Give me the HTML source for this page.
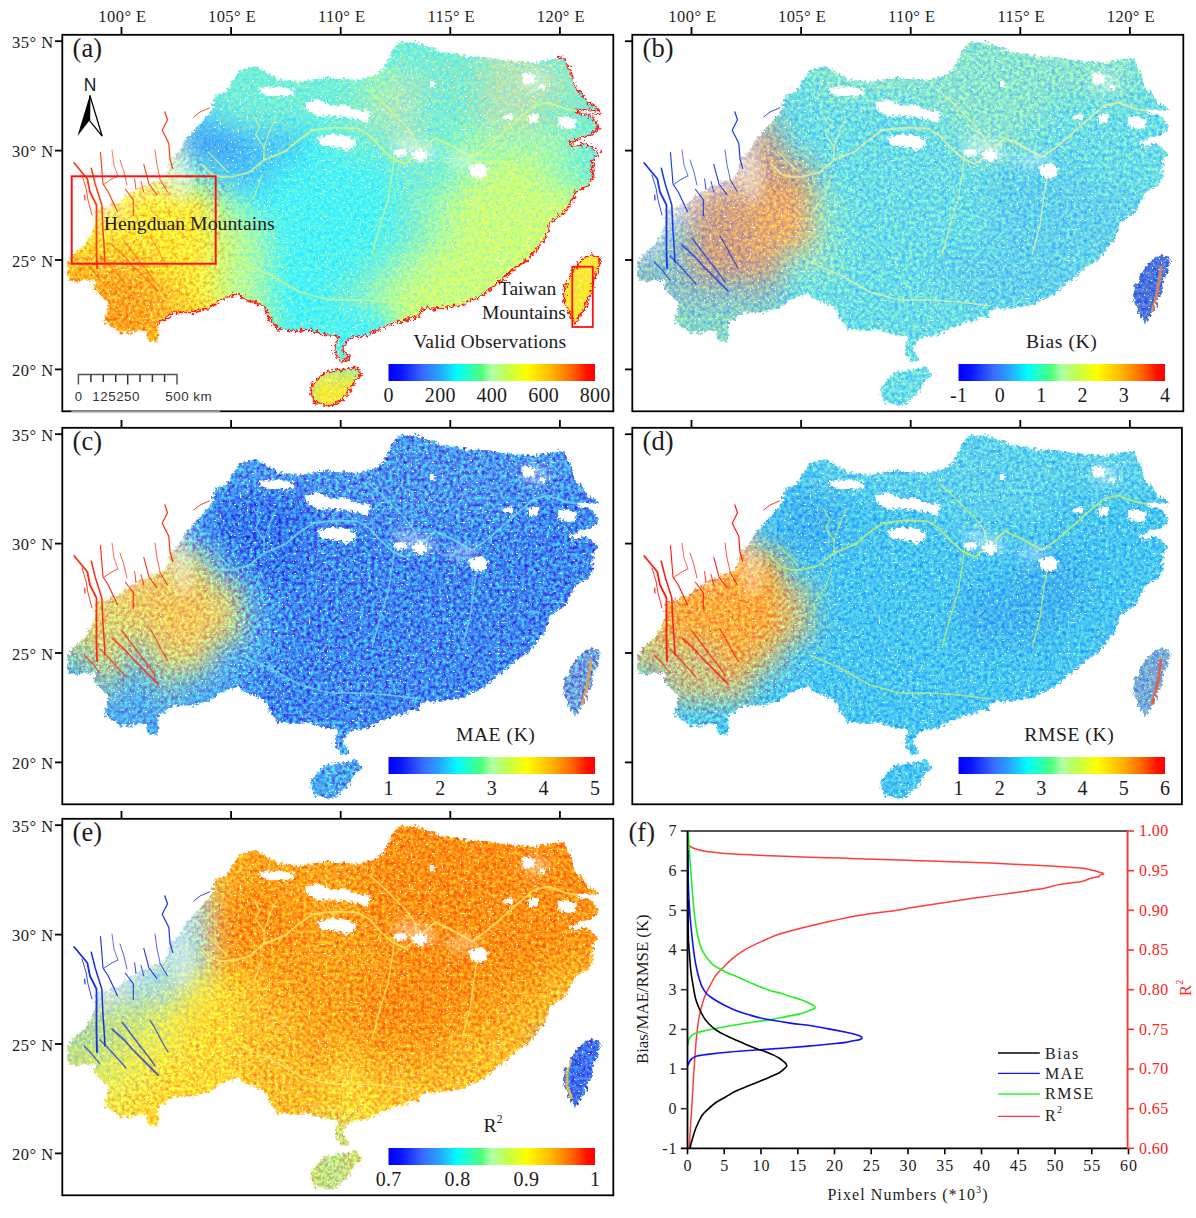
<!DOCTYPE html><html><head><meta charset="utf-8"><style>
html,body{margin:0;padding:0;background:#fff;width:1196px;height:1218px;overflow:hidden}
svg{position:absolute;left:0;top:0;display:block}
text{font-family:"Liberation Serif", serif;fill:#1c1c1c}
text.sans{font-family:"Liberation Sans", sans-serif}
</style></head><body>
<svg width="1196" height="1218" viewBox="0 0 1196 1218">
<defs>
<linearGradient id="cb" x1="0" y1="0" x2="1" y2="0"><stop offset="0" stop-color="#0000ff"/><stop offset="0.06" stop-color="#0a14ff"/><stop offset="0.17" stop-color="#3a6cff"/><stop offset="0.25" stop-color="#25a8ff"/><stop offset="0.335" stop-color="#00ffff"/><stop offset="0.45" stop-color="#4cff7a"/><stop offset="0.5" stop-color="#b0ffa8"/><stop offset="0.57" stop-color="#bfff50"/><stop offset="0.67" stop-color="#ffff00"/><stop offset="0.8" stop-color="#ffae00"/><stop offset="0.9" stop-color="#ff5a00"/><stop offset="0.96" stop-color="#ff1000"/><stop offset="1" stop-color="#ff0000"/></linearGradient>
<clipPath id="land"><path d="M214.0,96.0 L226.0,92.0 L240.0,70.0 L256.0,66.0 L266.0,72.0 L280.0,80.0 L300.0,82.0 L320.0,78.0 L340.0,78.0 L360.0,80.0 L378.0,74.0 L385.0,66.0 L389.0,58.0 L393.0,50.0 L397.0,43.0 L413.0,42.0 L420.0,44.0 L441.0,52.0 L469.0,57.0 L493.0,58.5 L518.0,61.7 L537.0,62.5 L550.0,60.0 L557.0,57.0 L563.5,57.6 L568.4,66.6 L573.3,79.7 L576.5,89.4 L583.0,96.0 L588.0,102.5 L598.5,109.0 L599.4,112.3 L589.6,110.6 L576.5,109.5 L576.5,112.3 L591.0,115.5 L599.4,128.6 L589.6,135.1 L576.5,140.0 L568.6,142.2 L574.5,145.9 L586.4,143.7 L593.7,148.9 L599.6,152.6 L593.7,159.2 L592.3,169.5 L593.7,177.0 L589.3,184.3 L583.4,188.7 L576.0,191.7 L571.6,202.0 L565.7,210.9 L556.8,218.3 L549.4,222.7 L547.9,231.6 L543.5,240.4 L539.1,246.4 L533.2,253.7 L524.3,262.6 L512.5,270.0 L503.6,278.8 L491.8,287.7 L480.0,296.6 L458.1,306.1 L433.5,308.5 L423.6,308.5 L418.7,315.9 L411.3,318.4 L394.0,323.3 L380.0,329.0 L368.0,335.0 L353.0,337.4 L348.3,338.9 L346.8,342.7 L342.3,345.7 L343.8,351.0 L349.1,356.3 L349.1,360.0 L342.3,361.5 L337.8,357.8 L334.7,351.7 L334.0,345.7 L337.0,340.4 L339.3,336.6 L328.7,334.4 L322.7,335.1 L315.1,331.3 L307.6,329.1 L300.0,331.3 L294.0,331.0 L277.7,328.8 L268.4,317.1 L263.7,305.4 L247.3,300.7 L237.9,293.7 L223.9,298.3 L209.8,307.7 L191.1,312.4 L172.4,312.4 L158.3,324.1 L158.3,341.7 L149.0,340.5 L146.6,331.1 L120.9,333.5 L104.5,321.7 L109.2,303.0 L97.5,293.7 L92.8,279.6 L69.4,282.0 L67.0,265.6 L71.7,256.0 L87.0,242.0 L93.8,227.0 L95.4,208.7 L117.0,203.7 L129.0,193.6 L149.0,183.6 L165.7,177.0 L170.7,158.5 L175.7,155.0 L187.4,138.5 L199.0,125.0 L212.5,110.0Z M324.9,372.1 L332.5,370.6 L345.3,369.1 L354.4,367.6 L360.4,370.6 L361.2,375.1 L355.9,378.9 L352.9,384.2 L349.8,389.5 L346.8,395.5 L339.3,401.6 L331.7,406.1 L322.7,404.6 L313.6,401.6 L311.3,394.8 L311.3,386.5 L316.6,380.4Z M593.7,254.5 L599.6,258.2 L598.2,268.5 L593.7,280.3 L590.8,295.1 L583.4,309.9 L577.5,320.0 L575.3,323.3 L570.0,314.0 L564.2,302.5 L564.2,287.7 L571.6,273.0 L580.4,261.1 L586.4,256.7Z"/></clipPath>
<filter id="jag" filterUnits="userSpaceOnUse" x="0" y="0" width="700" height="460"><feTurbulence type="fractalNoise" baseFrequency="0.3" numOctaves="3" seed="3" result="t"/><feDisplacementMap in="SourceGraphic" in2="t" scale="8" xChannelSelector="R" yChannelSelector="G"/></filter>
<mask id="landm" maskUnits="userSpaceOnUse" x="0" y="0" width="700" height="460"><path d="M214.0,96.0 L226.0,92.0 L240.0,70.0 L256.0,66.0 L266.0,72.0 L280.0,80.0 L300.0,82.0 L320.0,78.0 L340.0,78.0 L360.0,80.0 L378.0,74.0 L385.0,66.0 L389.0,58.0 L393.0,50.0 L397.0,43.0 L413.0,42.0 L420.0,44.0 L441.0,52.0 L469.0,57.0 L493.0,58.5 L518.0,61.7 L537.0,62.5 L550.0,60.0 L557.0,57.0 L563.5,57.6 L568.4,66.6 L573.3,79.7 L576.5,89.4 L583.0,96.0 L588.0,102.5 L598.5,109.0 L599.4,112.3 L589.6,110.6 L576.5,109.5 L576.5,112.3 L591.0,115.5 L599.4,128.6 L589.6,135.1 L576.5,140.0 L568.6,142.2 L574.5,145.9 L586.4,143.7 L593.7,148.9 L599.6,152.6 L593.7,159.2 L592.3,169.5 L593.7,177.0 L589.3,184.3 L583.4,188.7 L576.0,191.7 L571.6,202.0 L565.7,210.9 L556.8,218.3 L549.4,222.7 L547.9,231.6 L543.5,240.4 L539.1,246.4 L533.2,253.7 L524.3,262.6 L512.5,270.0 L503.6,278.8 L491.8,287.7 L480.0,296.6 L458.1,306.1 L433.5,308.5 L423.6,308.5 L418.7,315.9 L411.3,318.4 L394.0,323.3 L380.0,329.0 L368.0,335.0 L353.0,337.4 L348.3,338.9 L346.8,342.7 L342.3,345.7 L343.8,351.0 L349.1,356.3 L349.1,360.0 L342.3,361.5 L337.8,357.8 L334.7,351.7 L334.0,345.7 L337.0,340.4 L339.3,336.6 L328.7,334.4 L322.7,335.1 L315.1,331.3 L307.6,329.1 L300.0,331.3 L294.0,331.0 L277.7,328.8 L268.4,317.1 L263.7,305.4 L247.3,300.7 L237.9,293.7 L223.9,298.3 L209.8,307.7 L191.1,312.4 L172.4,312.4 L158.3,324.1 L158.3,341.7 L149.0,340.5 L146.6,331.1 L120.9,333.5 L104.5,321.7 L109.2,303.0 L97.5,293.7 L92.8,279.6 L69.4,282.0 L67.0,265.6 L71.7,256.0 L87.0,242.0 L93.8,227.0 L95.4,208.7 L117.0,203.7 L129.0,193.6 L149.0,183.6 L165.7,177.0 L170.7,158.5 L175.7,155.0 L187.4,138.5 L199.0,125.0 L212.5,110.0Z M324.9,372.1 L332.5,370.6 L345.3,369.1 L354.4,367.6 L360.4,370.6 L361.2,375.1 L355.9,378.9 L352.9,384.2 L349.8,389.5 L346.8,395.5 L339.3,401.6 L331.7,406.1 L322.7,404.6 L313.6,401.6 L311.3,394.8 L311.3,386.5 L316.6,380.4Z M593.7,254.5 L599.6,258.2 L598.2,268.5 L593.7,280.3 L590.8,295.1 L583.4,309.9 L577.5,320.0 L575.3,323.3 L570.0,314.0 L564.2,302.5 L564.2,287.7 L571.6,273.0 L580.4,261.1 L586.4,256.7Z" fill="#fff" filter="url(#jag)"/></mask>
<filter id="bl" filterUnits="userSpaceOnUse" x="0" y="0" width="700" height="460"><feGaussianBlur stdDeviation="13"/></filter>
<filter id="bl2" x="-20%" y="-20%" width="140%" height="140%"><feGaussianBlur stdDeviation="5"/></filter>
<filter id="nz_a" filterUnits="userSpaceOnUse" x="0" y="0" width="700" height="460" color-interpolation-filters="sRGB"><feGaussianBlur in="SourceGraphic" stdDeviation="13" result="b"/><feTurbulence type="fractalNoise" baseFrequency="0.28" numOctaves="2" seed="97" result="t"/><feColorMatrix in="t" type="matrix" values="0.55 0 0 0 0.225  0.12 0 0 0 0.44  -0.55 0 0 0 0.775  0 0 0 0 1" result="tn"/><feComposite in="b" in2="tn" operator="arithmetic" k1="0" k2="1" k3="1" k4="-0.5"/></filter>
<filter id="nw_a" filterUnits="userSpaceOnUse" x="0" y="0" width="700" height="460" color-interpolation-filters="sRGB"><feGaussianBlur in="SourceGraphic" stdDeviation="13" result="b"/><feTurbulence type="fractalNoise" baseFrequency="0.28" numOctaves="2" seed="97" result="t"/><feColorMatrix in="t" type="matrix" values="0.05 0 0 0 0.475  0.85 0 0 0 0.075  0.2 0 0 0 0.4  0 0 0 0 1" result="tn"/><feComposite in="b" in2="tn" operator="arithmetic" k1="0" k2="1" k3="1" k4="-0.5"/></filter>
<filter id="nz_b" filterUnits="userSpaceOnUse" x="0" y="0" width="700" height="460" color-interpolation-filters="sRGB"><feGaussianBlur in="SourceGraphic" stdDeviation="13" result="b"/><feTurbulence type="fractalNoise" baseFrequency="0.28" numOctaves="2" seed="98" result="t"/><feColorMatrix in="t" type="matrix" values="0.6 0 0 0 0.2  0.45 0 0 0 0.275  -0.4 0 0 0 0.7  0 0 0 0 1" result="tn"/><feComposite in="b" in2="tn" operator="arithmetic" k1="0" k2="1" k3="1" k4="-0.5"/></filter>
<filter id="nw_b" filterUnits="userSpaceOnUse" x="0" y="0" width="700" height="460" color-interpolation-filters="sRGB"><feGaussianBlur in="SourceGraphic" stdDeviation="13" result="b"/><feTurbulence type="fractalNoise" baseFrequency="0.28" numOctaves="2" seed="98" result="t"/><feColorMatrix in="t" type="matrix" values="0.05 0 0 0 0.475  0.85 0 0 0 0.075  0.2 0 0 0 0.4  0 0 0 0 1" result="tn"/><feComposite in="b" in2="tn" operator="arithmetic" k1="0" k2="1" k3="1" k4="-0.5"/></filter>
<filter id="nz_c" filterUnits="userSpaceOnUse" x="0" y="0" width="700" height="460" color-interpolation-filters="sRGB"><feGaussianBlur in="SourceGraphic" stdDeviation="13" result="b"/><feTurbulence type="fractalNoise" baseFrequency="0.28" numOctaves="2" seed="99" result="t"/><feColorMatrix in="t" type="matrix" values="0.05 0 0 0 0.475  1.3 0 0 0 -0.15  0.1 0 0 0 0.45  0 0 0 0 1" result="tn"/><feComposite in="b" in2="tn" operator="arithmetic" k1="0" k2="1" k3="1" k4="-0.5"/></filter>
<filter id="nw_c" filterUnits="userSpaceOnUse" x="0" y="0" width="700" height="460" color-interpolation-filters="sRGB"><feGaussianBlur in="SourceGraphic" stdDeviation="13" result="b"/><feTurbulence type="fractalNoise" baseFrequency="0.28" numOctaves="2" seed="99" result="t"/><feColorMatrix in="t" type="matrix" values="0.05 0 0 0 0.475  0.85 0 0 0 0.075  0.2 0 0 0 0.4  0 0 0 0 1" result="tn"/><feComposite in="b" in2="tn" operator="arithmetic" k1="0" k2="1" k3="1" k4="-0.5"/></filter>
<filter id="nz_d" filterUnits="userSpaceOnUse" x="0" y="0" width="700" height="460" color-interpolation-filters="sRGB"><feGaussianBlur in="SourceGraphic" stdDeviation="13" result="b"/><feTurbulence type="fractalNoise" baseFrequency="0.28" numOctaves="2" seed="100" result="t"/><feColorMatrix in="t" type="matrix" values="0.6 0 0 0 0.2  0.5 0 0 0 0.25  -0.3 0 0 0 0.65  0 0 0 0 1" result="tn"/><feComposite in="b" in2="tn" operator="arithmetic" k1="0" k2="1" k3="1" k4="-0.5"/></filter>
<filter id="nw_d" filterUnits="userSpaceOnUse" x="0" y="0" width="700" height="460" color-interpolation-filters="sRGB"><feGaussianBlur in="SourceGraphic" stdDeviation="13" result="b"/><feTurbulence type="fractalNoise" baseFrequency="0.28" numOctaves="2" seed="100" result="t"/><feColorMatrix in="t" type="matrix" values="0.05 0 0 0 0.475  0.85 0 0 0 0.075  0.2 0 0 0 0.4  0 0 0 0 1" result="tn"/><feComposite in="b" in2="tn" operator="arithmetic" k1="0" k2="1" k3="1" k4="-0.5"/></filter>
<filter id="nz_e" filterUnits="userSpaceOnUse" x="0" y="0" width="700" height="460" color-interpolation-filters="sRGB"><feGaussianBlur in="SourceGraphic" stdDeviation="13" result="b"/><feTurbulence type="fractalNoise" baseFrequency="0.28" numOctaves="2" seed="101" result="t"/><feColorMatrix in="t" type="matrix" values="0.5 0 0 0 0.25  0.3 0 0 0 0.35  -0.5 0 0 0 0.75  0 0 0 0 1" result="tn"/><feComposite in="b" in2="tn" operator="arithmetic" k1="0" k2="1" k3="1" k4="-0.5"/></filter>
<filter id="nw_e" filterUnits="userSpaceOnUse" x="0" y="0" width="700" height="460" color-interpolation-filters="sRGB"><feGaussianBlur in="SourceGraphic" stdDeviation="13" result="b"/><feTurbulence type="fractalNoise" baseFrequency="0.28" numOctaves="2" seed="101" result="t"/><feColorMatrix in="t" type="matrix" values="0.05 0 0 0 0.475  0.85 0 0 0 0.075  0.2 0 0 0 0.4  0 0 0 0 1" result="tn"/><feComposite in="b" in2="tn" operator="arithmetic" k1="0" k2="1" k3="1" k4="-0.5"/></filter>
<mask id="mk_warm" maskUnits="userSpaceOnUse" x="0" y="0" width="700" height="460"><polygon points="62.0,140.0 172.0,140.0 200.0,160.0 226.0,188.0 236.0,230.0 232.0,280.0 218.0,345.0 62.0,350.0" fill="#fff" filter="url(#bl2)"/></mask>
<mask id="mk_warm_e" maskUnits="userSpaceOnUse" x="0" y="0" width="700" height="460"><rect x="0" y="0" width="700" height="460" fill="#fff"/><polygon points="62.0,140.0 172.0,140.0 195.0,160.0 215.0,200.0 205.0,240.0 170.0,270.0 120.0,300.0 62.0,300.0" fill="#000" filter="url(#bl2)"/></mask>
<filter id="ws" filterUnits="userSpaceOnUse" x="0" y="0" width="700" height="460"><feTurbulence type="fractalNoise" baseFrequency="0.55" numOctaves="1" seed="11"/><feColorMatrix type="matrix" values="0 0 0 0 1  0 0 0 0 1  0 0 0 0 1  -12 0 0 0 4.0"/></filter>
<filter id="os" filterUnits="userSpaceOnUse" x="0" y="0" width="700" height="460"><feTurbulence type="fractalNoise" baseFrequency="0.5" numOctaves="1" seed="21"/><feColorMatrix type="matrix" values="0 0 0 0 1  0 0 0 0 0.55  0 0 0 0 0.12  10 0 0 0 -6.0"/></filter>
<mask id="mk_ne" maskUnits="userSpaceOnUse" x="0" y="0" width="700" height="460"><g filter="url(#bl)"><polygon points="430,60 560,58 585,100 570,135 470,125 430,100" fill="#fff"/></g></mask>
</defs>
<g transform="translate(0,0)">
<g mask="url(#landm)">
<g filter="url(#nz_a)">
<rect x="32" y="10" width="450" height="60" fill="#70eed8"/>
<rect x="482" y="10" width="60" height="60" fill="#a8e8c0"/>
<rect x="542" y="10" width="90" height="60" fill="#70eed8"/>
<rect x="32" y="70" width="330" height="30" fill="#70eed8"/>
<rect x="362" y="70" width="30" height="30" fill="#a0f8b0"/>
<rect x="392" y="70" width="30" height="30" fill="#a8e8c0"/>
<rect x="422" y="70" width="60" height="30" fill="#70eed8"/>
<rect x="482" y="70" width="90" height="30" fill="#a8e8c0"/>
<rect x="572" y="70" width="60" height="30" fill="#70eed8"/>
<rect x="32" y="100" width="150" height="30" fill="#70eed8"/>
<rect x="182" y="100" width="30" height="30" fill="#48c4ff"/>
<rect x="212" y="100" width="150" height="30" fill="#70eed8"/>
<rect x="362" y="100" width="60" height="30" fill="#a8e8c0"/>
<rect x="422" y="100" width="60" height="30" fill="#70eed8"/>
<rect x="482" y="100" width="60" height="30" fill="#a8e8c0"/>
<rect x="542" y="100" width="90" height="30" fill="#70eed8"/>
<rect x="32" y="130" width="150" height="30" fill="#fff0b0"/>
<rect x="182" y="130" width="60" height="30" fill="#40a0ff"/>
<rect x="242" y="130" width="60" height="30" fill="#48c4ff"/>
<rect x="302" y="130" width="30" height="30" fill="#48f2f6"/>
<rect x="332" y="130" width="60" height="30" fill="#70eed8"/>
<rect x="392" y="130" width="30" height="30" fill="#a8e8c0"/>
<rect x="422" y="130" width="30" height="30" fill="#70eed8"/>
<rect x="452" y="130" width="120" height="30" fill="#a0f8b0"/>
<rect x="572" y="130" width="60" height="30" fill="#70eed8"/>
<rect x="32" y="160" width="120" height="30" fill="#fff0b0"/>
<rect x="152" y="160" width="30" height="30" fill="#e0f8d0"/>
<rect x="182" y="160" width="30" height="30" fill="#70eed8"/>
<rect x="212" y="160" width="60" height="30" fill="#48c4ff"/>
<rect x="272" y="160" width="120" height="30" fill="#48f2f6"/>
<rect x="392" y="160" width="60" height="30" fill="#70eed8"/>
<rect x="452" y="160" width="30" height="30" fill="#a0f8b0"/>
<rect x="482" y="160" width="60" height="30" fill="#c8ff7c"/>
<rect x="542" y="160" width="30" height="30" fill="#a0f8b0"/>
<rect x="572" y="160" width="60" height="30" fill="#70eed8"/>
<rect x="32" y="190" width="90" height="30" fill="#fff0b0"/>
<rect x="122" y="190" width="90" height="30" fill="#ffe830"/>
<rect x="212" y="190" width="30" height="30" fill="#a0f8b0"/>
<rect x="242" y="190" width="150" height="30" fill="#48f2f6"/>
<rect x="392" y="190" width="30" height="30" fill="#70eed8"/>
<rect x="422" y="190" width="30" height="30" fill="#a0f8b0"/>
<rect x="452" y="190" width="180" height="30" fill="#c8ff7c"/>
<rect x="32" y="220" width="180" height="30" fill="#ffe830"/>
<rect x="212" y="220" width="30" height="30" fill="#c8ff7c"/>
<rect x="242" y="220" width="30" height="30" fill="#a0f8b0"/>
<rect x="272" y="220" width="120" height="30" fill="#48f2f6"/>
<rect x="392" y="220" width="30" height="30" fill="#70eed8"/>
<rect x="422" y="220" width="30" height="30" fill="#a0f8b0"/>
<rect x="452" y="220" width="120" height="30" fill="#c8ff7c"/>
<rect x="572" y="220" width="60" height="30" fill="#ffe830"/>
<rect x="32" y="250" width="120" height="30" fill="#ffbc28"/>
<rect x="152" y="250" width="60" height="30" fill="#ffe830"/>
<rect x="212" y="250" width="30" height="30" fill="#c8ff7c"/>
<rect x="242" y="250" width="30" height="30" fill="#a0f8b0"/>
<rect x="272" y="250" width="90" height="30" fill="#48f2f6"/>
<rect x="362" y="250" width="30" height="30" fill="#70eed8"/>
<rect x="392" y="250" width="30" height="30" fill="#a0f8b0"/>
<rect x="422" y="250" width="120" height="30" fill="#c8ff7c"/>
<rect x="542" y="250" width="90" height="30" fill="#ffe830"/>
<rect x="32" y="280" width="120" height="30" fill="#ffa01c"/>
<rect x="152" y="280" width="30" height="30" fill="#ffbc28"/>
<rect x="182" y="280" width="30" height="30" fill="#ffe830"/>
<rect x="212" y="280" width="30" height="30" fill="#c8ff7c"/>
<rect x="242" y="280" width="30" height="30" fill="#a0f8b0"/>
<rect x="272" y="280" width="60" height="30" fill="#48f2f6"/>
<rect x="332" y="280" width="30" height="30" fill="#70eed8"/>
<rect x="362" y="280" width="30" height="30" fill="#a0f8b0"/>
<rect x="392" y="280" width="150" height="30" fill="#c8ff7c"/>
<rect x="542" y="280" width="90" height="30" fill="#ffe830"/>
<rect x="32" y="310" width="120" height="30" fill="#ffa01c"/>
<rect x="152" y="310" width="60" height="30" fill="#ffbc28"/>
<rect x="212" y="310" width="30" height="30" fill="#ffe830"/>
<rect x="242" y="310" width="30" height="30" fill="#c8ff7c"/>
<rect x="272" y="310" width="120" height="30" fill="#48f2f6"/>
<rect x="392" y="310" width="150" height="30" fill="#c8ff7c"/>
<rect x="542" y="310" width="90" height="30" fill="#ffe830"/>
<rect x="32" y="340" width="120" height="30" fill="#ffa01c"/>
<rect x="152" y="340" width="60" height="30" fill="#ffbc28"/>
<rect x="212" y="340" width="30" height="30" fill="#ffe830"/>
<rect x="242" y="340" width="30" height="30" fill="#c8ff7c"/>
<rect x="272" y="340" width="30" height="30" fill="#48f2f6"/>
<rect x="302" y="340" width="30" height="30" fill="#a0f8b0"/>
<rect x="332" y="340" width="60" height="30" fill="#48f2f6"/>
<rect x="392" y="340" width="150" height="30" fill="#c8ff7c"/>
<rect x="542" y="340" width="90" height="30" fill="#ffe830"/>
<rect x="32" y="370" width="120" height="60" fill="#ffa01c"/>
<rect x="152" y="370" width="60" height="60" fill="#ffbc28"/>
<rect x="212" y="370" width="30" height="60" fill="#ffe830"/>
<rect x="242" y="370" width="30" height="60" fill="#c8ff7c"/>
<rect x="272" y="370" width="30" height="60" fill="#48f2f6"/>
<rect x="302" y="370" width="90" height="60" fill="#ffe830"/>
<rect x="392" y="370" width="150" height="60" fill="#c8ff7c"/>
<rect x="542" y="370" width="90" height="60" fill="#ffe830"/>
</g>
<g mask="url(#mk_warm)">
<g filter="url(#nw_a)">
<rect x="32" y="10" width="450" height="60" fill="#70eed8"/>
<rect x="482" y="10" width="60" height="60" fill="#a8e8c0"/>
<rect x="542" y="10" width="90" height="60" fill="#70eed8"/>
<rect x="32" y="70" width="330" height="30" fill="#70eed8"/>
<rect x="362" y="70" width="30" height="30" fill="#a0f8b0"/>
<rect x="392" y="70" width="30" height="30" fill="#a8e8c0"/>
<rect x="422" y="70" width="60" height="30" fill="#70eed8"/>
<rect x="482" y="70" width="90" height="30" fill="#a8e8c0"/>
<rect x="572" y="70" width="60" height="30" fill="#70eed8"/>
<rect x="32" y="100" width="150" height="30" fill="#70eed8"/>
<rect x="182" y="100" width="30" height="30" fill="#48c4ff"/>
<rect x="212" y="100" width="150" height="30" fill="#70eed8"/>
<rect x="362" y="100" width="60" height="30" fill="#a8e8c0"/>
<rect x="422" y="100" width="60" height="30" fill="#70eed8"/>
<rect x="482" y="100" width="60" height="30" fill="#a8e8c0"/>
<rect x="542" y="100" width="90" height="30" fill="#70eed8"/>
<rect x="32" y="130" width="150" height="30" fill="#fff0b0"/>
<rect x="182" y="130" width="60" height="30" fill="#40a0ff"/>
<rect x="242" y="130" width="60" height="30" fill="#48c4ff"/>
<rect x="302" y="130" width="30" height="30" fill="#48f2f6"/>
<rect x="332" y="130" width="60" height="30" fill="#70eed8"/>
<rect x="392" y="130" width="30" height="30" fill="#a8e8c0"/>
<rect x="422" y="130" width="30" height="30" fill="#70eed8"/>
<rect x="452" y="130" width="120" height="30" fill="#a0f8b0"/>
<rect x="572" y="130" width="60" height="30" fill="#70eed8"/>
<rect x="32" y="160" width="120" height="30" fill="#fff0b0"/>
<rect x="152" y="160" width="30" height="30" fill="#e0f8d0"/>
<rect x="182" y="160" width="30" height="30" fill="#70eed8"/>
<rect x="212" y="160" width="60" height="30" fill="#48c4ff"/>
<rect x="272" y="160" width="120" height="30" fill="#48f2f6"/>
<rect x="392" y="160" width="60" height="30" fill="#70eed8"/>
<rect x="452" y="160" width="30" height="30" fill="#a0f8b0"/>
<rect x="482" y="160" width="60" height="30" fill="#c8ff7c"/>
<rect x="542" y="160" width="30" height="30" fill="#a0f8b0"/>
<rect x="572" y="160" width="60" height="30" fill="#70eed8"/>
<rect x="32" y="190" width="90" height="30" fill="#fff0b0"/>
<rect x="122" y="190" width="90" height="30" fill="#ffe830"/>
<rect x="212" y="190" width="30" height="30" fill="#a0f8b0"/>
<rect x="242" y="190" width="150" height="30" fill="#48f2f6"/>
<rect x="392" y="190" width="30" height="30" fill="#70eed8"/>
<rect x="422" y="190" width="30" height="30" fill="#a0f8b0"/>
<rect x="452" y="190" width="180" height="30" fill="#c8ff7c"/>
<rect x="32" y="220" width="180" height="30" fill="#ffe830"/>
<rect x="212" y="220" width="30" height="30" fill="#c8ff7c"/>
<rect x="242" y="220" width="30" height="30" fill="#a0f8b0"/>
<rect x="272" y="220" width="120" height="30" fill="#48f2f6"/>
<rect x="392" y="220" width="30" height="30" fill="#70eed8"/>
<rect x="422" y="220" width="30" height="30" fill="#a0f8b0"/>
<rect x="452" y="220" width="120" height="30" fill="#c8ff7c"/>
<rect x="572" y="220" width="60" height="30" fill="#ffe830"/>
<rect x="32" y="250" width="120" height="30" fill="#ffbc28"/>
<rect x="152" y="250" width="60" height="30" fill="#ffe830"/>
<rect x="212" y="250" width="30" height="30" fill="#c8ff7c"/>
<rect x="242" y="250" width="30" height="30" fill="#a0f8b0"/>
<rect x="272" y="250" width="90" height="30" fill="#48f2f6"/>
<rect x="362" y="250" width="30" height="30" fill="#70eed8"/>
<rect x="392" y="250" width="30" height="30" fill="#a0f8b0"/>
<rect x="422" y="250" width="120" height="30" fill="#c8ff7c"/>
<rect x="542" y="250" width="90" height="30" fill="#ffe830"/>
<rect x="32" y="280" width="120" height="30" fill="#ffa01c"/>
<rect x="152" y="280" width="30" height="30" fill="#ffbc28"/>
<rect x="182" y="280" width="30" height="30" fill="#ffe830"/>
<rect x="212" y="280" width="30" height="30" fill="#c8ff7c"/>
<rect x="242" y="280" width="30" height="30" fill="#a0f8b0"/>
<rect x="272" y="280" width="60" height="30" fill="#48f2f6"/>
<rect x="332" y="280" width="30" height="30" fill="#70eed8"/>
<rect x="362" y="280" width="30" height="30" fill="#a0f8b0"/>
<rect x="392" y="280" width="150" height="30" fill="#c8ff7c"/>
<rect x="542" y="280" width="90" height="30" fill="#ffe830"/>
<rect x="32" y="310" width="120" height="30" fill="#ffa01c"/>
<rect x="152" y="310" width="60" height="30" fill="#ffbc28"/>
<rect x="212" y="310" width="30" height="30" fill="#ffe830"/>
<rect x="242" y="310" width="30" height="30" fill="#c8ff7c"/>
<rect x="272" y="310" width="120" height="30" fill="#48f2f6"/>
<rect x="392" y="310" width="150" height="30" fill="#c8ff7c"/>
<rect x="542" y="310" width="90" height="30" fill="#ffe830"/>
<rect x="32" y="340" width="120" height="30" fill="#ffa01c"/>
<rect x="152" y="340" width="60" height="30" fill="#ffbc28"/>
<rect x="212" y="340" width="30" height="30" fill="#ffe830"/>
<rect x="242" y="340" width="30" height="30" fill="#c8ff7c"/>
<rect x="272" y="340" width="30" height="30" fill="#48f2f6"/>
<rect x="302" y="340" width="30" height="30" fill="#a0f8b0"/>
<rect x="332" y="340" width="60" height="30" fill="#48f2f6"/>
<rect x="392" y="340" width="150" height="30" fill="#c8ff7c"/>
<rect x="542" y="340" width="90" height="30" fill="#ffe830"/>
<rect x="32" y="370" width="120" height="60" fill="#ffa01c"/>
<rect x="152" y="370" width="60" height="60" fill="#ffbc28"/>
<rect x="212" y="370" width="30" height="60" fill="#ffe830"/>
<rect x="242" y="370" width="30" height="60" fill="#c8ff7c"/>
<rect x="272" y="370" width="30" height="60" fill="#48f2f6"/>
<rect x="302" y="370" width="90" height="60" fill="#ffe830"/>
<rect x="392" y="370" width="150" height="60" fill="#c8ff7c"/>
<rect x="542" y="370" width="90" height="60" fill="#ffe830"/>
</g>
</g>
<rect x="60" y="40" width="560" height="370" filter="url(#ws)"/>
<g mask="url(#mk_ne)"><rect x="60" y="40" width="560" height="370" filter="url(#os)"/></g>
<polyline fill="none" stroke="#d8f880" stroke-opacity="0.75" stroke-width="2" stroke-linejoin="round" points="201.0,164.0 212.0,174.5 222.0,177.0 233.0,176.6 249.0,172.4 264.0,160.0 285.0,151.5 300.0,139.0 312.0,130.6 333.0,127.5 358.0,128.5 369.0,135.0 380.0,147.0 392.0,158.0 405.0,164.0 420.0,152.0 435.0,138.0 452.0,146.0 472.0,157.0 484.0,149.0 495.0,140.0 515.0,122.0 534.0,106.0 548.0,102.5 566.0,109.0 585.0,112.0 598.0,112.0"/>
<polyline fill="none" stroke="#d8f880" stroke-opacity="0.75" stroke-width="1.4" stroke-linejoin="round" points="253.6,116.0 259.9,126.4 255.7,134.8 264.0,147.0 264.0,160.0"/>
<polyline fill="none" stroke="#d8f880" stroke-opacity="0.75" stroke-width="1.2" stroke-linejoin="round" points="276.6,116.0 270.0,130.0 264.0,147.0"/>
<polyline fill="none" stroke="#d8f880" stroke-opacity="0.75" stroke-width="1.4" stroke-linejoin="round" points="207.6,151.5 218.0,162.0 228.5,172.4"/>
<polyline fill="none" stroke="#d8f880" stroke-opacity="0.75" stroke-width="1.4" stroke-linejoin="round" points="368.6,90.9 380.0,100.0 389.5,109.7 405.0,125.0 416.0,140.0 416.0,149.0"/>
<polyline fill="none" stroke="#d8f880" stroke-opacity="0.75" stroke-width="1.4" stroke-linejoin="round" points="395.0,152.0 392.0,175.0 388.0,200.0 380.0,225.0 372.0,255.0"/>
<polyline fill="none" stroke="#d8f880" stroke-opacity="0.75" stroke-width="1.4" stroke-linejoin="round" points="478.0,172.0 474.0,195.0 470.0,225.0 462.0,255.0"/>
<polyline fill="none" stroke="#d8f880" stroke-opacity="0.75" stroke-width="1.6" stroke-linejoin="round" points="240.0,262.0 270.0,275.0 300.0,292.0 330.0,300.0 360.0,300.0 390.0,302.0 420.0,306.0"/>
<polyline fill="none" stroke="#d8f880" stroke-opacity="0.75" stroke-width="1.2" stroke-linejoin="round" points="240.0,215.0 255.0,195.0 262.0,175.0"/>
<ellipse cx="183" cy="180" rx="11" ry="24" fill="#fff" fill-opacity="0.3" filter="url(#bl2)"/>
<g fill="#fff" filter="url(#bl2)"><ellipse cx="415" cy="148" rx="24" ry="9" fill-opacity="0.35" transform="rotate(18 415 148)"/><ellipse cx="462" cy="160" rx="16" ry="8" fill-opacity="0.3"/><ellipse cx="535" cy="82" rx="14" ry="10" fill-opacity="0.3"/></g>
<g fill="#fff" filter="url(#jag)">
<polygon points="260.0,88.0 270.0,86.5 284.0,87.5 295.0,90.0 293.0,95.0 282.0,96.0 268.0,95.5 261.0,93.0"/>
<polygon points="303.8,103.4 316.3,99.3 333.0,105.6 345.0,104.0 354.0,108.7 370.7,112.9 368.6,121.3 354.0,119.2 337.2,116.0 320.5,116.5 308.0,111.8"/>
<polygon points="316.3,139.0 328.9,133.7 349.8,135.8 357.1,144.2 347.7,150.5 335.1,146.3 320.5,145.2"/>
<polygon points="412.0,151.0 420.0,149.0 429.0,153.0 427.0,160.0 418.0,161.0 413.0,157.0"/>
<polygon points="469.0,166.0 480.0,164.0 488.0,168.0 486.0,177.0 478.0,179.0 471.0,174.0"/>
<polygon points="521.0,74.0 530.0,72.5 536.0,77.0 533.0,84.0 524.0,83.0"/>
<polygon points="539.0,85.0 545.0,84.5 545.0,90.0 540.0,90.0"/>
<polygon points="557.0,118.0 568.0,116.5 577.0,120.0 575.0,128.0 565.0,128.6 558.0,125.0"/>
<polygon points="503.0,114.5 514.0,114.0 515.0,119.5 505.0,120.0"/>
<polygon points="527.0,115.0 538.0,114.0 539.0,122.0 529.0,123.0"/>
<polygon points="430.0,82.0 435.0,82.0 434.0,87.0 430.0,86.0"/>
<polygon points="392.0,150.0 405.0,149.0 409.0,155.0 398.0,157.0"/>
</g>
</g>
<polyline fill="none" stroke="#ff3a10" stroke-width="1.8" stroke-opacity="0.45" stroke-linecap="round" points="112.0,245.0 124.0,256.0 135.0,268.0 147.0,280.0 158.0,291.0"/>
<polyline fill="none" stroke="#ff3a10" stroke-width="1.4" stroke-opacity="0.45" stroke-linecap="round" points="122.0,238.0 131.0,250.0 140.0,262.0 148.0,272.0 155.0,282.0"/>
<polyline fill="none" stroke="#ff3a10" stroke-width="1.3" stroke-opacity="0.45" stroke-linecap="round" points="100.0,256.0 109.0,265.0 118.0,275.0 126.0,284.0"/>
<polyline fill="none" stroke="#ff3a10" stroke-width="1.3" stroke-opacity="0.45" stroke-linecap="round" points="150.0,236.0 156.0,246.0 161.0,256.0 168.0,268.0"/>
<polyline fill="none" stroke="#ff3a10" stroke-width="1.2" stroke-opacity="0.45" stroke-linecap="round" points="84.0,262.0 92.0,270.0 100.0,280.0"/>
<polyline fill="none" stroke="#ff3a10" stroke-width="1.8" stroke-linejoin="round" stroke-linecap="round" points="74.2,163.0 80.0,170.0 87.3,178.8 90.0,192.0 96.5,205.0 96.5,231.0 96.5,250.0 97.0,268.0"/>
<polyline fill="none" stroke="#ff3a10" stroke-width="1.5" stroke-linejoin="round" stroke-linecap="round" points="91.3,168.3 95.2,184.0 101.8,205.0 103.0,231.0 104.0,245.0 105.0,262.0"/>
<polyline fill="none" stroke="#ff3a10" stroke-width="1.125" stroke-linejoin="round" stroke-linecap="round" points="100.5,152.5 103.0,184.0 108.3,192.0 117.5,211.7"/>
<polyline fill="none" stroke="#ff3a10" stroke-width="0.825" stroke-linejoin="round" stroke-linecap="round" points="104.4,184.0 110.0,180.0 117.5,176.0"/>
<polyline fill="none" stroke="#ff3a10" stroke-width="1.05" stroke-linejoin="round" stroke-linecap="round" points="125.4,189.3 133.3,199.8 133.3,215.6"/>
<polyline fill="none" stroke="#ff3a10" stroke-width="0.9" stroke-linejoin="round" stroke-linecap="round" points="134.6,178.8 136.0,189.3"/>
<polyline fill="none" stroke="#ff3a10" stroke-width="1.05" stroke-linejoin="round" stroke-linecap="round" points="143.8,164.4 149.0,184.0 157.0,194.6"/>
<polyline fill="none" stroke="#ff3a10" stroke-width="1.2" stroke-linejoin="round" stroke-linecap="round" points="164.8,111.8 167.5,119.7 162.2,130.2 168.8,143.3 170.0,159.0 172.7,168.3"/>
<polyline fill="none" stroke="#ff3a10" stroke-width="0.9" stroke-linejoin="round" stroke-linecap="round" points="141.0,181.4 143.8,192.0"/>
<polyline fill="none" stroke="#ff3a10" stroke-width="0.9" stroke-linejoin="round" stroke-linecap="round" points="193.7,117.0 200.0,112.0 209.5,107.9"/>
<polyline fill="none" stroke="#ff3a10" stroke-width="1.2" stroke-linejoin="round" stroke-linecap="round" points="84.7,195.0 85.0,200.0"/>
<polyline fill="none" stroke="#ff3a10" stroke-width="0.975" stroke-linejoin="round" stroke-linecap="round" points="159.6,178.8 167.5,192.0"/>
<polyline fill="none" stroke="#ff3a10" stroke-width="0.75" stroke-linejoin="round" stroke-linecap="round" points="120.0,160.0 124.0,172.0 127.0,185.0"/>
<polyline fill="none" stroke="#ff3a10" stroke-width="0.675" stroke-linejoin="round" stroke-linecap="round" points="112.0,150.0 114.0,165.0 118.0,176.0"/>
<polyline fill="none" stroke="#ff3a10" stroke-width="0.75" stroke-linejoin="round" stroke-linecap="round" points="155.0,150.0 157.0,165.0 160.0,178.0"/>
<polyline fill="none" stroke="#ff3a10" stroke-width="0.9" stroke-linejoin="round" stroke-linecap="round" points="82.0,175.0 86.0,188.0 88.0,200.0 92.0,215.0"/>
<g filter="url(#jag)">
<polyline fill="none" stroke="#ff1a1a" stroke-width="1.8" points="557.0,57.0 563.5,57.6 568.4,66.6 573.3,79.7 576.5,89.4 583.0,96.0 588.0,102.5 598.5,109.0 599.4,112.3 589.6,110.6 576.5,109.5 576.5,112.3 591.0,115.5 599.4,128.6 589.6,135.1 576.5,140.0 568.6,142.2 574.5,145.9 586.4,143.7 593.7,148.9 599.6,152.6 593.7,159.2 592.3,169.5 593.7,177.0 589.3,184.3 583.4,188.7 576.0,191.7 571.6,202.0 565.7,210.9 556.8,218.3 549.4,222.7 547.9,231.6 543.5,240.4 539.1,246.4 533.2,253.7 524.3,262.6 512.5,270.0 503.6,278.8 491.8,287.7 480.0,296.6 458.1,306.1 433.5,308.5 423.6,308.5 418.7,315.9 411.3,318.4 394.0,323.3 380.0,329.0 368.0,335.0 353.0,337.4 348.3,338.9 346.8,342.7 342.3,345.7 343.8,351.0 349.1,356.3 349.1,360.0 342.3,361.5 337.8,357.8 334.7,351.7 334.0,345.7 337.0,340.4 339.3,336.6 328.7,334.4 322.7,335.1 315.1,331.3 307.6,329.1 300.0,331.3 294.0,331.0 277.7,328.8 268.4,317.1 263.7,305.4 247.3,300.7 237.9,293.7 223.9,298.3 209.8,307.7 191.1,312.4 172.4,312.4 158.3,324.1"/>
<path fill="none" stroke="#ff1a1a" stroke-width="1.8" d="M324.9,372.1 L332.5,370.6 L345.3,369.1 L354.4,367.6 L360.4,370.6 L361.2,375.1 L355.9,378.9 L352.9,384.2 L349.8,389.5 L346.8,395.5 L339.3,401.6 L331.7,406.1 L322.7,404.6 L313.6,401.6 L311.3,394.8 L311.3,386.5 L316.6,380.4Z M593.7,254.5 L599.6,258.2 L598.2,268.5 L593.7,280.3 L590.8,295.1 L583.4,309.9 L577.5,320.0 L575.3,323.3 L570.0,314.0 L564.2,302.5 L564.2,287.7 L571.6,273.0 L580.4,261.1 L586.4,256.7Z"/>
</g>
</g>
<g transform="translate(570,0)">
<g mask="url(#landm)">
<g filter="url(#nz_b)">
<rect x="32" y="10" width="210" height="60" fill="#68dce6"/>
<rect x="242" y="10" width="330" height="60" fill="#88e4d0"/>
<rect x="572" y="10" width="60" height="60" fill="#68dce6"/>
<rect x="32" y="70" width="210" height="30" fill="#68dce6"/>
<rect x="242" y="70" width="330" height="30" fill="#88e4d0"/>
<rect x="572" y="70" width="60" height="30" fill="#68dce6"/>
<rect x="32" y="100" width="150" height="30" fill="#e0e8f8"/>
<rect x="182" y="100" width="30" height="30" fill="#88c0c8"/>
<rect x="212" y="100" width="150" height="30" fill="#68dce6"/>
<rect x="362" y="100" width="120" height="30" fill="#88e4d0"/>
<rect x="482" y="100" width="150" height="30" fill="#68dce6"/>
<rect x="32" y="130" width="150" height="30" fill="#e0e8f8"/>
<rect x="182" y="130" width="30" height="30" fill="#d0a080"/>
<rect x="212" y="130" width="180" height="30" fill="#68dce6"/>
<rect x="392" y="130" width="60" height="30" fill="#88e4d0"/>
<rect x="452" y="130" width="180" height="30" fill="#68dce6"/>
<rect x="32" y="160" width="120" height="30" fill="#e0e8f8"/>
<rect x="152" y="160" width="30" height="30" fill="#e8d0c0"/>
<rect x="182" y="160" width="60" height="30" fill="#d0a080"/>
<rect x="242" y="160" width="180" height="30" fill="#68dce6"/>
<rect x="422" y="160" width="90" height="30" fill="#60d0ec"/>
<rect x="512" y="160" width="120" height="30" fill="#68dce6"/>
<rect x="32" y="190" width="90" height="30" fill="#e0e8f8"/>
<rect x="122" y="190" width="60" height="30" fill="#d0a080"/>
<rect x="182" y="190" width="60" height="30" fill="#eeac66"/>
<rect x="242" y="190" width="30" height="30" fill="#88e4d0"/>
<rect x="272" y="190" width="150" height="30" fill="#68dce6"/>
<rect x="422" y="190" width="150" height="30" fill="#60d0ec"/>
<rect x="572" y="190" width="60" height="30" fill="#68dce6"/>
<rect x="32" y="220" width="60" height="30" fill="#e0e8f8"/>
<rect x="92" y="220" width="30" height="30" fill="#88c0c8"/>
<rect x="122" y="220" width="60" height="30" fill="#d0a080"/>
<rect x="182" y="220" width="60" height="30" fill="#eeac66"/>
<rect x="242" y="220" width="30" height="30" fill="#88e4d0"/>
<rect x="272" y="220" width="150" height="30" fill="#68dce6"/>
<rect x="422" y="220" width="120" height="30" fill="#60d0ec"/>
<rect x="542" y="220" width="30" height="30" fill="#68dce6"/>
<rect x="572" y="220" width="60" height="30" fill="#4870e0"/>
<rect x="32" y="250" width="90" height="30" fill="#88c0c8"/>
<rect x="122" y="250" width="90" height="30" fill="#d0a080"/>
<rect x="212" y="250" width="60" height="30" fill="#88e4d0"/>
<rect x="272" y="250" width="90" height="30" fill="#68dce6"/>
<rect x="362" y="250" width="150" height="30" fill="#60d0ec"/>
<rect x="512" y="250" width="30" height="30" fill="#68dce6"/>
<rect x="542" y="250" width="90" height="30" fill="#4870e0"/>
<rect x="32" y="280" width="180" height="30" fill="#88c0c8"/>
<rect x="212" y="280" width="180" height="30" fill="#68dce6"/>
<rect x="392" y="280" width="120" height="30" fill="#60d0ec"/>
<rect x="512" y="280" width="30" height="30" fill="#68dce6"/>
<rect x="542" y="280" width="90" height="30" fill="#4870e0"/>
<rect x="32" y="310" width="180" height="30" fill="#84d8c8"/>
<rect x="212" y="310" width="330" height="30" fill="#68dce6"/>
<rect x="542" y="310" width="90" height="30" fill="#4870e0"/>
<rect x="32" y="340" width="180" height="30" fill="#84d8c8"/>
<rect x="212" y="340" width="420" height="30" fill="#68dce6"/>
<rect x="32" y="370" width="180" height="60" fill="#84d8c8"/>
<rect x="212" y="370" width="420" height="60" fill="#68dce6"/>
</g>
<rect x="60" y="40" width="560" height="370" filter="url(#ws)"/>
<polyline fill="none" stroke="#f08840" stroke-width="3" stroke-opacity="0.8" points="591,266 589,282 586,298 582,312"/>
<polyline fill="none" stroke="#e8f0a0" stroke-opacity="0.75" stroke-width="2" stroke-linejoin="round" points="201.0,164.0 212.0,174.5 222.0,177.0 233.0,176.6 249.0,172.4 264.0,160.0 285.0,151.5 300.0,139.0 312.0,130.6 333.0,127.5 358.0,128.5 369.0,135.0 380.0,147.0 392.0,158.0 405.0,164.0 420.0,152.0 435.0,138.0 452.0,146.0 472.0,157.0 484.0,149.0 495.0,140.0 515.0,122.0 534.0,106.0 548.0,102.5 566.0,109.0 585.0,112.0 598.0,112.0"/>
<polyline fill="none" stroke="#e8f0a0" stroke-opacity="0.75" stroke-width="1.4" stroke-linejoin="round" points="253.6,116.0 259.9,126.4 255.7,134.8 264.0,147.0 264.0,160.0"/>
<polyline fill="none" stroke="#e8f0a0" stroke-opacity="0.75" stroke-width="1.2" stroke-linejoin="round" points="276.6,116.0 270.0,130.0 264.0,147.0"/>
<polyline fill="none" stroke="#e8f0a0" stroke-opacity="0.75" stroke-width="1.4" stroke-linejoin="round" points="207.6,151.5 218.0,162.0 228.5,172.4"/>
<polyline fill="none" stroke="#e8f0a0" stroke-opacity="0.75" stroke-width="1.4" stroke-linejoin="round" points="368.6,90.9 380.0,100.0 389.5,109.7 405.0,125.0 416.0,140.0 416.0,149.0"/>
<polyline fill="none" stroke="#e8f0a0" stroke-opacity="0.75" stroke-width="1.4" stroke-linejoin="round" points="395.0,152.0 392.0,175.0 388.0,200.0 380.0,225.0 372.0,255.0"/>
<polyline fill="none" stroke="#e8f0a0" stroke-opacity="0.75" stroke-width="1.4" stroke-linejoin="round" points="478.0,172.0 474.0,195.0 470.0,225.0 462.0,255.0"/>
<polyline fill="none" stroke="#e8f0a0" stroke-opacity="0.75" stroke-width="1.6" stroke-linejoin="round" points="240.0,262.0 270.0,275.0 300.0,292.0 330.0,300.0 360.0,300.0 390.0,302.0 420.0,306.0"/>
<polyline fill="none" stroke="#e8f0a0" stroke-opacity="0.75" stroke-width="1.2" stroke-linejoin="round" points="240.0,215.0 255.0,195.0 262.0,175.0"/>
<ellipse cx="183" cy="180" rx="11" ry="24" fill="#fff" fill-opacity="0.3" filter="url(#bl2)"/>
<g fill="#fff" filter="url(#bl2)"><ellipse cx="415" cy="148" rx="24" ry="9" fill-opacity="0.35" transform="rotate(18 415 148)"/><ellipse cx="462" cy="160" rx="16" ry="8" fill-opacity="0.3"/><ellipse cx="535" cy="82" rx="14" ry="10" fill-opacity="0.3"/></g>
<g fill="#fff" filter="url(#jag)">
<polygon points="260.0,88.0 270.0,86.5 284.0,87.5 295.0,90.0 293.0,95.0 282.0,96.0 268.0,95.5 261.0,93.0"/>
<polygon points="303.8,103.4 316.3,99.3 333.0,105.6 345.0,104.0 354.0,108.7 370.7,112.9 368.6,121.3 354.0,119.2 337.2,116.0 320.5,116.5 308.0,111.8"/>
<polygon points="316.3,139.0 328.9,133.7 349.8,135.8 357.1,144.2 347.7,150.5 335.1,146.3 320.5,145.2"/>
<polygon points="412.0,151.0 420.0,149.0 429.0,153.0 427.0,160.0 418.0,161.0 413.0,157.0"/>
<polygon points="469.0,166.0 480.0,164.0 488.0,168.0 486.0,177.0 478.0,179.0 471.0,174.0"/>
<polygon points="521.0,74.0 530.0,72.5 536.0,77.0 533.0,84.0 524.0,83.0"/>
<polygon points="539.0,85.0 545.0,84.5 545.0,90.0 540.0,90.0"/>
<polygon points="557.0,118.0 568.0,116.5 577.0,120.0 575.0,128.0 565.0,128.6 558.0,125.0"/>
<polygon points="503.0,114.5 514.0,114.0 515.0,119.5 505.0,120.0"/>
<polygon points="527.0,115.0 538.0,114.0 539.0,122.0 529.0,123.0"/>
<polygon points="430.0,82.0 435.0,82.0 434.0,87.0 430.0,86.0"/>
<polygon points="392.0,150.0 405.0,149.0 409.0,155.0 398.0,157.0"/>
</g>
</g>
<polyline fill="none" stroke="#1838e8" stroke-width="1.8" stroke-opacity="0.75" stroke-linecap="round" points="112.0,245.0 124.0,256.0 135.0,268.0 147.0,280.0 158.0,291.0"/>
<polyline fill="none" stroke="#1838e8" stroke-width="1.4" stroke-opacity="0.75" stroke-linecap="round" points="122.0,238.0 131.0,250.0 140.0,262.0 148.0,272.0 155.0,282.0"/>
<polyline fill="none" stroke="#1838e8" stroke-width="1.3" stroke-opacity="0.75" stroke-linecap="round" points="100.0,256.0 109.0,265.0 118.0,275.0 126.0,284.0"/>
<polyline fill="none" stroke="#1838e8" stroke-width="1.3" stroke-opacity="0.75" stroke-linecap="round" points="150.0,236.0 156.0,246.0 161.0,256.0 168.0,268.0"/>
<polyline fill="none" stroke="#1838e8" stroke-width="1.2" stroke-opacity="0.75" stroke-linecap="round" points="84.0,262.0 92.0,270.0 100.0,280.0"/>
<polyline fill="none" stroke="#1838e8" stroke-width="1.8" stroke-linejoin="round" stroke-linecap="round" points="74.2,163.0 80.0,170.0 87.3,178.8 90.0,192.0 96.5,205.0 96.5,231.0 96.5,250.0 97.0,268.0"/>
<polyline fill="none" stroke="#1838e8" stroke-width="1.5" stroke-linejoin="round" stroke-linecap="round" points="91.3,168.3 95.2,184.0 101.8,205.0 103.0,231.0 104.0,245.0 105.0,262.0"/>
<polyline fill="none" stroke="#1838e8" stroke-width="1.125" stroke-linejoin="round" stroke-linecap="round" points="100.5,152.5 103.0,184.0 108.3,192.0 117.5,211.7"/>
<polyline fill="none" stroke="#1838e8" stroke-width="0.825" stroke-linejoin="round" stroke-linecap="round" points="104.4,184.0 110.0,180.0 117.5,176.0"/>
<polyline fill="none" stroke="#1838e8" stroke-width="1.05" stroke-linejoin="round" stroke-linecap="round" points="125.4,189.3 133.3,199.8 133.3,215.6"/>
<polyline fill="none" stroke="#1838e8" stroke-width="0.9" stroke-linejoin="round" stroke-linecap="round" points="134.6,178.8 136.0,189.3"/>
<polyline fill="none" stroke="#1838e8" stroke-width="1.05" stroke-linejoin="round" stroke-linecap="round" points="143.8,164.4 149.0,184.0 157.0,194.6"/>
<polyline fill="none" stroke="#1838e8" stroke-width="1.2" stroke-linejoin="round" stroke-linecap="round" points="164.8,111.8 167.5,119.7 162.2,130.2 168.8,143.3 170.0,159.0 172.7,168.3"/>
<polyline fill="none" stroke="#1838e8" stroke-width="0.9" stroke-linejoin="round" stroke-linecap="round" points="141.0,181.4 143.8,192.0"/>
<polyline fill="none" stroke="#1838e8" stroke-width="0.9" stroke-linejoin="round" stroke-linecap="round" points="193.7,117.0 200.0,112.0 209.5,107.9"/>
<polyline fill="none" stroke="#1838e8" stroke-width="1.2" stroke-linejoin="round" stroke-linecap="round" points="84.7,195.0 85.0,200.0"/>
<polyline fill="none" stroke="#1838e8" stroke-width="0.975" stroke-linejoin="round" stroke-linecap="round" points="159.6,178.8 167.5,192.0"/>
<polyline fill="none" stroke="#1838e8" stroke-width="0.75" stroke-linejoin="round" stroke-linecap="round" points="120.0,160.0 124.0,172.0 127.0,185.0"/>
<polyline fill="none" stroke="#1838e8" stroke-width="0.675" stroke-linejoin="round" stroke-linecap="round" points="112.0,150.0 114.0,165.0 118.0,176.0"/>
<polyline fill="none" stroke="#1838e8" stroke-width="0.75" stroke-linejoin="round" stroke-linecap="round" points="155.0,150.0 157.0,165.0 160.0,178.0"/>
<polyline fill="none" stroke="#1838e8" stroke-width="0.9" stroke-linejoin="round" stroke-linecap="round" points="82.0,175.0 86.0,188.0 88.0,200.0 92.0,215.0"/>
</g>
<g transform="translate(0,393)">
<g mask="url(#landm)">
<g filter="url(#nz_c)">
<rect x="32" y="10" width="600" height="60" fill="#4a92f2"/>
<rect x="32" y="70" width="180" height="30" fill="#4a92f2"/>
<rect x="212" y="70" width="30" height="30" fill="#4aa6f2"/>
<rect x="242" y="70" width="390" height="30" fill="#4a92f2"/>
<rect x="32" y="100" width="180" height="30" fill="#4aa6f2"/>
<rect x="212" y="100" width="90" height="30" fill="#3474f0"/>
<rect x="302" y="100" width="30" height="30" fill="#3d84f2"/>
<rect x="332" y="100" width="180" height="30" fill="#4a92f2"/>
<rect x="512" y="100" width="120" height="30" fill="#3d84f2"/>
<rect x="32" y="130" width="150" height="30" fill="#fae0d8"/>
<rect x="182" y="130" width="30" height="30" fill="#4aa6f2"/>
<rect x="212" y="130" width="90" height="30" fill="#3474f0"/>
<rect x="302" y="130" width="330" height="30" fill="#3d84f2"/>
<rect x="32" y="160" width="90" height="30" fill="#fae0d8"/>
<rect x="122" y="160" width="30" height="30" fill="#f8c0a0"/>
<rect x="152" y="160" width="60" height="30" fill="#dcd474"/>
<rect x="212" y="160" width="30" height="30" fill="#4aa6f2"/>
<rect x="242" y="160" width="60" height="30" fill="#3474f0"/>
<rect x="302" y="160" width="330" height="30" fill="#3d84f2"/>
<rect x="32" y="190" width="60" height="30" fill="#f8c0a0"/>
<rect x="92" y="190" width="30" height="30" fill="#dcd474"/>
<rect x="122" y="190" width="90" height="30" fill="#f4c458"/>
<rect x="212" y="190" width="30" height="30" fill="#dcd474"/>
<rect x="242" y="190" width="30" height="30" fill="#4aa6f2"/>
<rect x="272" y="190" width="360" height="30" fill="#3d84f2"/>
<rect x="32" y="220" width="120" height="30" fill="#dcd474"/>
<rect x="152" y="220" width="60" height="30" fill="#f4c458"/>
<rect x="212" y="220" width="30" height="30" fill="#dcd474"/>
<rect x="242" y="220" width="30" height="30" fill="#4aa6f2"/>
<rect x="272" y="220" width="300" height="30" fill="#3d84f2"/>
<rect x="572" y="220" width="60" height="30" fill="#6a9ae0"/>
<rect x="32" y="250" width="60" height="30" fill="#80c0c0"/>
<rect x="92" y="250" width="30" height="30" fill="#dcd474"/>
<rect x="122" y="250" width="30" height="30" fill="#80c0c0"/>
<rect x="152" y="250" width="60" height="30" fill="#dcd474"/>
<rect x="212" y="250" width="60" height="30" fill="#4aa6f2"/>
<rect x="272" y="250" width="270" height="30" fill="#3d84f2"/>
<rect x="542" y="250" width="90" height="30" fill="#6a9ae0"/>
<rect x="32" y="280" width="60" height="30" fill="#4aa6f2"/>
<rect x="92" y="280" width="30" height="30" fill="#80c0c0"/>
<rect x="122" y="280" width="30" height="30" fill="#4aa6f2"/>
<rect x="152" y="280" width="30" height="30" fill="#80c0c0"/>
<rect x="182" y="280" width="60" height="30" fill="#4aa6f2"/>
<rect x="242" y="280" width="300" height="30" fill="#3d84f2"/>
<rect x="542" y="280" width="90" height="30" fill="#6a9ae0"/>
<rect x="32" y="310" width="210" height="30" fill="#4aa6f2"/>
<rect x="242" y="310" width="300" height="30" fill="#3d84f2"/>
<rect x="542" y="310" width="90" height="30" fill="#6a9ae0"/>
<rect x="32" y="340" width="210" height="30" fill="#4aa6f2"/>
<rect x="242" y="340" width="60" height="30" fill="#3d84f2"/>
<rect x="302" y="340" width="60" height="30" fill="#4aa6f2"/>
<rect x="362" y="340" width="270" height="30" fill="#3d84f2"/>
<rect x="32" y="370" width="210" height="60" fill="#4aa6f2"/>
<rect x="242" y="370" width="60" height="60" fill="#3d84f2"/>
<rect x="302" y="370" width="60" height="60" fill="#4aa6f2"/>
<rect x="362" y="370" width="270" height="60" fill="#3d84f2"/>
</g>
<g mask="url(#mk_warm)">
<g filter="url(#nw_c)">
<rect x="32" y="10" width="600" height="60" fill="#4a92f2"/>
<rect x="32" y="70" width="180" height="30" fill="#4a92f2"/>
<rect x="212" y="70" width="30" height="30" fill="#4aa6f2"/>
<rect x="242" y="70" width="390" height="30" fill="#4a92f2"/>
<rect x="32" y="100" width="180" height="30" fill="#4aa6f2"/>
<rect x="212" y="100" width="90" height="30" fill="#3474f0"/>
<rect x="302" y="100" width="30" height="30" fill="#3d84f2"/>
<rect x="332" y="100" width="180" height="30" fill="#4a92f2"/>
<rect x="512" y="100" width="120" height="30" fill="#3d84f2"/>
<rect x="32" y="130" width="150" height="30" fill="#fae0d8"/>
<rect x="182" y="130" width="30" height="30" fill="#4aa6f2"/>
<rect x="212" y="130" width="90" height="30" fill="#3474f0"/>
<rect x="302" y="130" width="330" height="30" fill="#3d84f2"/>
<rect x="32" y="160" width="90" height="30" fill="#fae0d8"/>
<rect x="122" y="160" width="30" height="30" fill="#f8c0a0"/>
<rect x="152" y="160" width="60" height="30" fill="#dcd474"/>
<rect x="212" y="160" width="30" height="30" fill="#4aa6f2"/>
<rect x="242" y="160" width="60" height="30" fill="#3474f0"/>
<rect x="302" y="160" width="330" height="30" fill="#3d84f2"/>
<rect x="32" y="190" width="60" height="30" fill="#f8c0a0"/>
<rect x="92" y="190" width="30" height="30" fill="#dcd474"/>
<rect x="122" y="190" width="90" height="30" fill="#f4c458"/>
<rect x="212" y="190" width="30" height="30" fill="#dcd474"/>
<rect x="242" y="190" width="30" height="30" fill="#4aa6f2"/>
<rect x="272" y="190" width="360" height="30" fill="#3d84f2"/>
<rect x="32" y="220" width="120" height="30" fill="#dcd474"/>
<rect x="152" y="220" width="60" height="30" fill="#f4c458"/>
<rect x="212" y="220" width="30" height="30" fill="#dcd474"/>
<rect x="242" y="220" width="30" height="30" fill="#4aa6f2"/>
<rect x="272" y="220" width="300" height="30" fill="#3d84f2"/>
<rect x="572" y="220" width="60" height="30" fill="#6a9ae0"/>
<rect x="32" y="250" width="60" height="30" fill="#80c0c0"/>
<rect x="92" y="250" width="30" height="30" fill="#dcd474"/>
<rect x="122" y="250" width="30" height="30" fill="#80c0c0"/>
<rect x="152" y="250" width="60" height="30" fill="#dcd474"/>
<rect x="212" y="250" width="60" height="30" fill="#4aa6f2"/>
<rect x="272" y="250" width="270" height="30" fill="#3d84f2"/>
<rect x="542" y="250" width="90" height="30" fill="#6a9ae0"/>
<rect x="32" y="280" width="60" height="30" fill="#4aa6f2"/>
<rect x="92" y="280" width="30" height="30" fill="#80c0c0"/>
<rect x="122" y="280" width="30" height="30" fill="#4aa6f2"/>
<rect x="152" y="280" width="30" height="30" fill="#80c0c0"/>
<rect x="182" y="280" width="60" height="30" fill="#4aa6f2"/>
<rect x="242" y="280" width="300" height="30" fill="#3d84f2"/>
<rect x="542" y="280" width="90" height="30" fill="#6a9ae0"/>
<rect x="32" y="310" width="210" height="30" fill="#4aa6f2"/>
<rect x="242" y="310" width="300" height="30" fill="#3d84f2"/>
<rect x="542" y="310" width="90" height="30" fill="#6a9ae0"/>
<rect x="32" y="340" width="210" height="30" fill="#4aa6f2"/>
<rect x="242" y="340" width="60" height="30" fill="#3d84f2"/>
<rect x="302" y="340" width="60" height="30" fill="#4aa6f2"/>
<rect x="362" y="340" width="270" height="30" fill="#3d84f2"/>
<rect x="32" y="370" width="210" height="60" fill="#4aa6f2"/>
<rect x="242" y="370" width="60" height="60" fill="#3d84f2"/>
<rect x="302" y="370" width="60" height="60" fill="#4aa6f2"/>
<rect x="362" y="370" width="270" height="60" fill="#3d84f2"/>
</g>
</g>
<rect x="60" y="40" width="560" height="370" filter="url(#ws)"/>
<polyline fill="none" stroke="#f0a040" stroke-width="3" stroke-opacity="0.8" points="591,266 589,282 586,298 582,312"/>
<polyline fill="none" stroke="#70e0e8" stroke-opacity="0.75" stroke-width="2" stroke-linejoin="round" points="201.0,164.0 212.0,174.5 222.0,177.0 233.0,176.6 249.0,172.4 264.0,160.0 285.0,151.5 300.0,139.0 312.0,130.6 333.0,127.5 358.0,128.5 369.0,135.0 380.0,147.0 392.0,158.0 405.0,164.0 420.0,152.0 435.0,138.0 452.0,146.0 472.0,157.0 484.0,149.0 495.0,140.0 515.0,122.0 534.0,106.0 548.0,102.5 566.0,109.0 585.0,112.0 598.0,112.0"/>
<polyline fill="none" stroke="#70e0e8" stroke-opacity="0.75" stroke-width="1.4" stroke-linejoin="round" points="253.6,116.0 259.9,126.4 255.7,134.8 264.0,147.0 264.0,160.0"/>
<polyline fill="none" stroke="#70e0e8" stroke-opacity="0.75" stroke-width="1.2" stroke-linejoin="round" points="276.6,116.0 270.0,130.0 264.0,147.0"/>
<polyline fill="none" stroke="#70e0e8" stroke-opacity="0.75" stroke-width="1.4" stroke-linejoin="round" points="207.6,151.5 218.0,162.0 228.5,172.4"/>
<polyline fill="none" stroke="#70e0e8" stroke-opacity="0.75" stroke-width="1.4" stroke-linejoin="round" points="368.6,90.9 380.0,100.0 389.5,109.7 405.0,125.0 416.0,140.0 416.0,149.0"/>
<polyline fill="none" stroke="#70e0e8" stroke-opacity="0.75" stroke-width="1.4" stroke-linejoin="round" points="395.0,152.0 392.0,175.0 388.0,200.0 380.0,225.0 372.0,255.0"/>
<polyline fill="none" stroke="#70e0e8" stroke-opacity="0.75" stroke-width="1.4" stroke-linejoin="round" points="478.0,172.0 474.0,195.0 470.0,225.0 462.0,255.0"/>
<polyline fill="none" stroke="#70e0e8" stroke-opacity="0.75" stroke-width="1.6" stroke-linejoin="round" points="240.0,262.0 270.0,275.0 300.0,292.0 330.0,300.0 360.0,300.0 390.0,302.0 420.0,306.0"/>
<polyline fill="none" stroke="#70e0e8" stroke-opacity="0.75" stroke-width="1.2" stroke-linejoin="round" points="240.0,215.0 255.0,195.0 262.0,175.0"/>
<ellipse cx="183" cy="180" rx="11" ry="24" fill="#fff" fill-opacity="0.3" filter="url(#bl2)"/>
<g fill="#fff" filter="url(#bl2)"><ellipse cx="415" cy="148" rx="24" ry="9" fill-opacity="0.35" transform="rotate(18 415 148)"/><ellipse cx="462" cy="160" rx="16" ry="8" fill-opacity="0.3"/><ellipse cx="535" cy="82" rx="14" ry="10" fill-opacity="0.3"/></g>
<g fill="#fff" filter="url(#jag)">
<polygon points="260.0,88.0 270.0,86.5 284.0,87.5 295.0,90.0 293.0,95.0 282.0,96.0 268.0,95.5 261.0,93.0"/>
<polygon points="303.8,103.4 316.3,99.3 333.0,105.6 345.0,104.0 354.0,108.7 370.7,112.9 368.6,121.3 354.0,119.2 337.2,116.0 320.5,116.5 308.0,111.8"/>
<polygon points="316.3,139.0 328.9,133.7 349.8,135.8 357.1,144.2 347.7,150.5 335.1,146.3 320.5,145.2"/>
<polygon points="412.0,151.0 420.0,149.0 429.0,153.0 427.0,160.0 418.0,161.0 413.0,157.0"/>
<polygon points="469.0,166.0 480.0,164.0 488.0,168.0 486.0,177.0 478.0,179.0 471.0,174.0"/>
<polygon points="521.0,74.0 530.0,72.5 536.0,77.0 533.0,84.0 524.0,83.0"/>
<polygon points="539.0,85.0 545.0,84.5 545.0,90.0 540.0,90.0"/>
<polygon points="557.0,118.0 568.0,116.5 577.0,120.0 575.0,128.0 565.0,128.6 558.0,125.0"/>
<polygon points="503.0,114.5 514.0,114.0 515.0,119.5 505.0,120.0"/>
<polygon points="527.0,115.0 538.0,114.0 539.0,122.0 529.0,123.0"/>
<polygon points="430.0,82.0 435.0,82.0 434.0,87.0 430.0,86.0"/>
<polygon points="392.0,150.0 405.0,149.0 409.0,155.0 398.0,157.0"/>
</g>
</g>
<polyline fill="none" stroke="#ff2a10" stroke-width="1.8" stroke-opacity="0.75" stroke-linecap="round" points="112.0,245.0 124.0,256.0 135.0,268.0 147.0,280.0 158.0,291.0"/>
<polyline fill="none" stroke="#ff2a10" stroke-width="1.4" stroke-opacity="0.75" stroke-linecap="round" points="122.0,238.0 131.0,250.0 140.0,262.0 148.0,272.0 155.0,282.0"/>
<polyline fill="none" stroke="#ff2a10" stroke-width="1.3" stroke-opacity="0.75" stroke-linecap="round" points="100.0,256.0 109.0,265.0 118.0,275.0 126.0,284.0"/>
<polyline fill="none" stroke="#ff2a10" stroke-width="1.3" stroke-opacity="0.75" stroke-linecap="round" points="150.0,236.0 156.0,246.0 161.0,256.0 168.0,268.0"/>
<polyline fill="none" stroke="#ff2a10" stroke-width="1.2" stroke-opacity="0.75" stroke-linecap="round" points="84.0,262.0 92.0,270.0 100.0,280.0"/>
<polyline fill="none" stroke="#ff2a10" stroke-width="1.8" stroke-linejoin="round" stroke-linecap="round" points="74.2,163.0 80.0,170.0 87.3,178.8 90.0,192.0 96.5,205.0 96.5,231.0 96.5,250.0 97.0,268.0"/>
<polyline fill="none" stroke="#ff2a10" stroke-width="1.5" stroke-linejoin="round" stroke-linecap="round" points="91.3,168.3 95.2,184.0 101.8,205.0 103.0,231.0 104.0,245.0 105.0,262.0"/>
<polyline fill="none" stroke="#ff2a10" stroke-width="1.125" stroke-linejoin="round" stroke-linecap="round" points="100.5,152.5 103.0,184.0 108.3,192.0 117.5,211.7"/>
<polyline fill="none" stroke="#ff2a10" stroke-width="0.825" stroke-linejoin="round" stroke-linecap="round" points="104.4,184.0 110.0,180.0 117.5,176.0"/>
<polyline fill="none" stroke="#ff2a10" stroke-width="1.05" stroke-linejoin="round" stroke-linecap="round" points="125.4,189.3 133.3,199.8 133.3,215.6"/>
<polyline fill="none" stroke="#ff2a10" stroke-width="0.9" stroke-linejoin="round" stroke-linecap="round" points="134.6,178.8 136.0,189.3"/>
<polyline fill="none" stroke="#ff2a10" stroke-width="1.05" stroke-linejoin="round" stroke-linecap="round" points="143.8,164.4 149.0,184.0 157.0,194.6"/>
<polyline fill="none" stroke="#ff2a10" stroke-width="1.2" stroke-linejoin="round" stroke-linecap="round" points="164.8,111.8 167.5,119.7 162.2,130.2 168.8,143.3 170.0,159.0 172.7,168.3"/>
<polyline fill="none" stroke="#ff2a10" stroke-width="0.9" stroke-linejoin="round" stroke-linecap="round" points="141.0,181.4 143.8,192.0"/>
<polyline fill="none" stroke="#ff2a10" stroke-width="0.9" stroke-linejoin="round" stroke-linecap="round" points="193.7,117.0 200.0,112.0 209.5,107.9"/>
<polyline fill="none" stroke="#ff2a10" stroke-width="1.2" stroke-linejoin="round" stroke-linecap="round" points="84.7,195.0 85.0,200.0"/>
<polyline fill="none" stroke="#ff2a10" stroke-width="0.975" stroke-linejoin="round" stroke-linecap="round" points="159.6,178.8 167.5,192.0"/>
<polyline fill="none" stroke="#ff2a10" stroke-width="0.75" stroke-linejoin="round" stroke-linecap="round" points="120.0,160.0 124.0,172.0 127.0,185.0"/>
<polyline fill="none" stroke="#ff2a10" stroke-width="0.675" stroke-linejoin="round" stroke-linecap="round" points="112.0,150.0 114.0,165.0 118.0,176.0"/>
<polyline fill="none" stroke="#ff2a10" stroke-width="0.75" stroke-linejoin="round" stroke-linecap="round" points="155.0,150.0 157.0,165.0 160.0,178.0"/>
<polyline fill="none" stroke="#ff2a10" stroke-width="0.9" stroke-linejoin="round" stroke-linecap="round" points="82.0,175.0 86.0,188.0 88.0,200.0 92.0,215.0"/>
</g>
<g transform="translate(570,393)">
<g mask="url(#landm)">
<g filter="url(#nz_d)">
<rect x="32" y="10" width="600" height="60" fill="#5cd0ec"/>
<rect x="32" y="70" width="180" height="30" fill="#5cd0ec"/>
<rect x="212" y="70" width="30" height="30" fill="#46c4f2"/>
<rect x="242" y="70" width="390" height="30" fill="#5cd0ec"/>
<rect x="32" y="100" width="180" height="30" fill="#46c4f2"/>
<rect x="212" y="100" width="60" height="30" fill="#40b2f2"/>
<rect x="272" y="100" width="90" height="30" fill="#46c4f2"/>
<rect x="362" y="100" width="120" height="30" fill="#5cd0ec"/>
<rect x="482" y="100" width="150" height="30" fill="#46c4f2"/>
<rect x="32" y="130" width="120" height="30" fill="#fae0d8"/>
<rect x="152" y="130" width="30" height="30" fill="#f8c0a0"/>
<rect x="182" y="130" width="30" height="30" fill="#46c4f2"/>
<rect x="212" y="130" width="60" height="30" fill="#40b2f2"/>
<rect x="272" y="130" width="360" height="30" fill="#46c4f2"/>
<rect x="32" y="160" width="60" height="30" fill="#fae0d8"/>
<rect x="92" y="160" width="60" height="30" fill="#f8c0a0"/>
<rect x="152" y="160" width="60" height="30" fill="#ffa838"/>
<rect x="212" y="160" width="240" height="30" fill="#46c4f2"/>
<rect x="452" y="160" width="60" height="30" fill="#40b2f2"/>
<rect x="512" y="160" width="120" height="30" fill="#46c4f2"/>
<rect x="32" y="190" width="60" height="30" fill="#f8c0a0"/>
<rect x="92" y="190" width="120" height="30" fill="#ffa838"/>
<rect x="212" y="190" width="30" height="30" fill="#c8c080"/>
<rect x="242" y="190" width="150" height="30" fill="#46c4f2"/>
<rect x="392" y="190" width="120" height="30" fill="#40b2f2"/>
<rect x="512" y="190" width="120" height="30" fill="#46c4f2"/>
<rect x="32" y="220" width="60" height="30" fill="#c8c080"/>
<rect x="92" y="220" width="120" height="30" fill="#ffa838"/>
<rect x="212" y="220" width="30" height="30" fill="#c8c080"/>
<rect x="242" y="220" width="150" height="30" fill="#46c4f2"/>
<rect x="392" y="220" width="90" height="30" fill="#40b2f2"/>
<rect x="482" y="220" width="90" height="30" fill="#46c4f2"/>
<rect x="572" y="220" width="60" height="30" fill="#70a8d8"/>
<rect x="32" y="250" width="120" height="30" fill="#c8c080"/>
<rect x="152" y="250" width="30" height="30" fill="#ffa838"/>
<rect x="182" y="250" width="30" height="30" fill="#c8c080"/>
<rect x="212" y="250" width="330" height="30" fill="#46c4f2"/>
<rect x="542" y="250" width="90" height="30" fill="#70a8d8"/>
<rect x="32" y="280" width="60" height="30" fill="#46c4f2"/>
<rect x="92" y="280" width="90" height="30" fill="#c8c080"/>
<rect x="182" y="280" width="360" height="30" fill="#46c4f2"/>
<rect x="542" y="280" width="90" height="30" fill="#70a8d8"/>
<rect x="32" y="310" width="510" height="30" fill="#46c4f2"/>
<rect x="542" y="310" width="90" height="30" fill="#70a8d8"/>
<rect x="32" y="340" width="600" height="30" fill="#46c4f2"/>
<rect x="32" y="370" width="600" height="60" fill="#46c4f2"/>
</g>
<g mask="url(#mk_warm)">
<g filter="url(#nw_d)">
<rect x="32" y="10" width="600" height="60" fill="#5cd0ec"/>
<rect x="32" y="70" width="180" height="30" fill="#5cd0ec"/>
<rect x="212" y="70" width="30" height="30" fill="#46c4f2"/>
<rect x="242" y="70" width="390" height="30" fill="#5cd0ec"/>
<rect x="32" y="100" width="180" height="30" fill="#46c4f2"/>
<rect x="212" y="100" width="60" height="30" fill="#40b2f2"/>
<rect x="272" y="100" width="90" height="30" fill="#46c4f2"/>
<rect x="362" y="100" width="120" height="30" fill="#5cd0ec"/>
<rect x="482" y="100" width="150" height="30" fill="#46c4f2"/>
<rect x="32" y="130" width="120" height="30" fill="#fae0d8"/>
<rect x="152" y="130" width="30" height="30" fill="#f8c0a0"/>
<rect x="182" y="130" width="30" height="30" fill="#46c4f2"/>
<rect x="212" y="130" width="60" height="30" fill="#40b2f2"/>
<rect x="272" y="130" width="360" height="30" fill="#46c4f2"/>
<rect x="32" y="160" width="60" height="30" fill="#fae0d8"/>
<rect x="92" y="160" width="60" height="30" fill="#f8c0a0"/>
<rect x="152" y="160" width="60" height="30" fill="#ffa838"/>
<rect x="212" y="160" width="240" height="30" fill="#46c4f2"/>
<rect x="452" y="160" width="60" height="30" fill="#40b2f2"/>
<rect x="512" y="160" width="120" height="30" fill="#46c4f2"/>
<rect x="32" y="190" width="60" height="30" fill="#f8c0a0"/>
<rect x="92" y="190" width="120" height="30" fill="#ffa838"/>
<rect x="212" y="190" width="30" height="30" fill="#c8c080"/>
<rect x="242" y="190" width="150" height="30" fill="#46c4f2"/>
<rect x="392" y="190" width="120" height="30" fill="#40b2f2"/>
<rect x="512" y="190" width="120" height="30" fill="#46c4f2"/>
<rect x="32" y="220" width="60" height="30" fill="#c8c080"/>
<rect x="92" y="220" width="120" height="30" fill="#ffa838"/>
<rect x="212" y="220" width="30" height="30" fill="#c8c080"/>
<rect x="242" y="220" width="150" height="30" fill="#46c4f2"/>
<rect x="392" y="220" width="90" height="30" fill="#40b2f2"/>
<rect x="482" y="220" width="90" height="30" fill="#46c4f2"/>
<rect x="572" y="220" width="60" height="30" fill="#70a8d8"/>
<rect x="32" y="250" width="120" height="30" fill="#c8c080"/>
<rect x="152" y="250" width="30" height="30" fill="#ffa838"/>
<rect x="182" y="250" width="30" height="30" fill="#c8c080"/>
<rect x="212" y="250" width="330" height="30" fill="#46c4f2"/>
<rect x="542" y="250" width="90" height="30" fill="#70a8d8"/>
<rect x="32" y="280" width="60" height="30" fill="#46c4f2"/>
<rect x="92" y="280" width="90" height="30" fill="#c8c080"/>
<rect x="182" y="280" width="360" height="30" fill="#46c4f2"/>
<rect x="542" y="280" width="90" height="30" fill="#70a8d8"/>
<rect x="32" y="310" width="510" height="30" fill="#46c4f2"/>
<rect x="542" y="310" width="90" height="30" fill="#70a8d8"/>
<rect x="32" y="340" width="600" height="30" fill="#46c4f2"/>
<rect x="32" y="370" width="600" height="60" fill="#46c4f2"/>
</g>
</g>
<rect x="60" y="40" width="560" height="370" filter="url(#ws)"/>
<polyline fill="none" stroke="#ff5030" stroke-width="3" stroke-opacity="0.8" points="591,266 589,282 586,298 582,312"/>
<polyline fill="none" stroke="#c8f070" stroke-opacity="0.75" stroke-width="2" stroke-linejoin="round" points="201.0,164.0 212.0,174.5 222.0,177.0 233.0,176.6 249.0,172.4 264.0,160.0 285.0,151.5 300.0,139.0 312.0,130.6 333.0,127.5 358.0,128.5 369.0,135.0 380.0,147.0 392.0,158.0 405.0,164.0 420.0,152.0 435.0,138.0 452.0,146.0 472.0,157.0 484.0,149.0 495.0,140.0 515.0,122.0 534.0,106.0 548.0,102.5 566.0,109.0 585.0,112.0 598.0,112.0"/>
<polyline fill="none" stroke="#c8f070" stroke-opacity="0.75" stroke-width="1.4" stroke-linejoin="round" points="253.6,116.0 259.9,126.4 255.7,134.8 264.0,147.0 264.0,160.0"/>
<polyline fill="none" stroke="#c8f070" stroke-opacity="0.75" stroke-width="1.2" stroke-linejoin="round" points="276.6,116.0 270.0,130.0 264.0,147.0"/>
<polyline fill="none" stroke="#c8f070" stroke-opacity="0.75" stroke-width="1.4" stroke-linejoin="round" points="207.6,151.5 218.0,162.0 228.5,172.4"/>
<polyline fill="none" stroke="#c8f070" stroke-opacity="0.75" stroke-width="1.4" stroke-linejoin="round" points="368.6,90.9 380.0,100.0 389.5,109.7 405.0,125.0 416.0,140.0 416.0,149.0"/>
<polyline fill="none" stroke="#c8f070" stroke-opacity="0.75" stroke-width="1.4" stroke-linejoin="round" points="395.0,152.0 392.0,175.0 388.0,200.0 380.0,225.0 372.0,255.0"/>
<polyline fill="none" stroke="#c8f070" stroke-opacity="0.75" stroke-width="1.4" stroke-linejoin="round" points="478.0,172.0 474.0,195.0 470.0,225.0 462.0,255.0"/>
<polyline fill="none" stroke="#c8f070" stroke-opacity="0.75" stroke-width="1.6" stroke-linejoin="round" points="240.0,262.0 270.0,275.0 300.0,292.0 330.0,300.0 360.0,300.0 390.0,302.0 420.0,306.0"/>
<polyline fill="none" stroke="#c8f070" stroke-opacity="0.75" stroke-width="1.2" stroke-linejoin="round" points="240.0,215.0 255.0,195.0 262.0,175.0"/>
<ellipse cx="183" cy="180" rx="11" ry="24" fill="#fff" fill-opacity="0.3" filter="url(#bl2)"/>
<g fill="#fff" filter="url(#bl2)"><ellipse cx="415" cy="148" rx="24" ry="9" fill-opacity="0.35" transform="rotate(18 415 148)"/><ellipse cx="462" cy="160" rx="16" ry="8" fill-opacity="0.3"/><ellipse cx="535" cy="82" rx="14" ry="10" fill-opacity="0.3"/></g>
<g fill="#fff" filter="url(#jag)">
<polygon points="260.0,88.0 270.0,86.5 284.0,87.5 295.0,90.0 293.0,95.0 282.0,96.0 268.0,95.5 261.0,93.0"/>
<polygon points="303.8,103.4 316.3,99.3 333.0,105.6 345.0,104.0 354.0,108.7 370.7,112.9 368.6,121.3 354.0,119.2 337.2,116.0 320.5,116.5 308.0,111.8"/>
<polygon points="316.3,139.0 328.9,133.7 349.8,135.8 357.1,144.2 347.7,150.5 335.1,146.3 320.5,145.2"/>
<polygon points="412.0,151.0 420.0,149.0 429.0,153.0 427.0,160.0 418.0,161.0 413.0,157.0"/>
<polygon points="469.0,166.0 480.0,164.0 488.0,168.0 486.0,177.0 478.0,179.0 471.0,174.0"/>
<polygon points="521.0,74.0 530.0,72.5 536.0,77.0 533.0,84.0 524.0,83.0"/>
<polygon points="539.0,85.0 545.0,84.5 545.0,90.0 540.0,90.0"/>
<polygon points="557.0,118.0 568.0,116.5 577.0,120.0 575.0,128.0 565.0,128.6 558.0,125.0"/>
<polygon points="503.0,114.5 514.0,114.0 515.0,119.5 505.0,120.0"/>
<polygon points="527.0,115.0 538.0,114.0 539.0,122.0 529.0,123.0"/>
<polygon points="430.0,82.0 435.0,82.0 434.0,87.0 430.0,86.0"/>
<polygon points="392.0,150.0 405.0,149.0 409.0,155.0 398.0,157.0"/>
</g>
</g>
<polyline fill="none" stroke="#ff1a10" stroke-width="1.8" stroke-opacity="0.75" stroke-linecap="round" points="112.0,245.0 124.0,256.0 135.0,268.0 147.0,280.0 158.0,291.0"/>
<polyline fill="none" stroke="#ff1a10" stroke-width="1.4" stroke-opacity="0.75" stroke-linecap="round" points="122.0,238.0 131.0,250.0 140.0,262.0 148.0,272.0 155.0,282.0"/>
<polyline fill="none" stroke="#ff1a10" stroke-width="1.3" stroke-opacity="0.75" stroke-linecap="round" points="100.0,256.0 109.0,265.0 118.0,275.0 126.0,284.0"/>
<polyline fill="none" stroke="#ff1a10" stroke-width="1.3" stroke-opacity="0.75" stroke-linecap="round" points="150.0,236.0 156.0,246.0 161.0,256.0 168.0,268.0"/>
<polyline fill="none" stroke="#ff1a10" stroke-width="1.2" stroke-opacity="0.75" stroke-linecap="round" points="84.0,262.0 92.0,270.0 100.0,280.0"/>
<polyline fill="none" stroke="#ff1a10" stroke-width="1.8" stroke-linejoin="round" stroke-linecap="round" points="74.2,163.0 80.0,170.0 87.3,178.8 90.0,192.0 96.5,205.0 96.5,231.0 96.5,250.0 97.0,268.0"/>
<polyline fill="none" stroke="#ff1a10" stroke-width="1.5" stroke-linejoin="round" stroke-linecap="round" points="91.3,168.3 95.2,184.0 101.8,205.0 103.0,231.0 104.0,245.0 105.0,262.0"/>
<polyline fill="none" stroke="#ff1a10" stroke-width="1.125" stroke-linejoin="round" stroke-linecap="round" points="100.5,152.5 103.0,184.0 108.3,192.0 117.5,211.7"/>
<polyline fill="none" stroke="#ff1a10" stroke-width="0.825" stroke-linejoin="round" stroke-linecap="round" points="104.4,184.0 110.0,180.0 117.5,176.0"/>
<polyline fill="none" stroke="#ff1a10" stroke-width="1.05" stroke-linejoin="round" stroke-linecap="round" points="125.4,189.3 133.3,199.8 133.3,215.6"/>
<polyline fill="none" stroke="#ff1a10" stroke-width="0.9" stroke-linejoin="round" stroke-linecap="round" points="134.6,178.8 136.0,189.3"/>
<polyline fill="none" stroke="#ff1a10" stroke-width="1.05" stroke-linejoin="round" stroke-linecap="round" points="143.8,164.4 149.0,184.0 157.0,194.6"/>
<polyline fill="none" stroke="#ff1a10" stroke-width="1.2" stroke-linejoin="round" stroke-linecap="round" points="164.8,111.8 167.5,119.7 162.2,130.2 168.8,143.3 170.0,159.0 172.7,168.3"/>
<polyline fill="none" stroke="#ff1a10" stroke-width="0.9" stroke-linejoin="round" stroke-linecap="round" points="141.0,181.4 143.8,192.0"/>
<polyline fill="none" stroke="#ff1a10" stroke-width="0.9" stroke-linejoin="round" stroke-linecap="round" points="193.7,117.0 200.0,112.0 209.5,107.9"/>
<polyline fill="none" stroke="#ff1a10" stroke-width="1.2" stroke-linejoin="round" stroke-linecap="round" points="84.7,195.0 85.0,200.0"/>
<polyline fill="none" stroke="#ff1a10" stroke-width="0.975" stroke-linejoin="round" stroke-linecap="round" points="159.6,178.8 167.5,192.0"/>
<polyline fill="none" stroke="#ff1a10" stroke-width="0.75" stroke-linejoin="round" stroke-linecap="round" points="120.0,160.0 124.0,172.0 127.0,185.0"/>
<polyline fill="none" stroke="#ff1a10" stroke-width="0.675" stroke-linejoin="round" stroke-linecap="round" points="112.0,150.0 114.0,165.0 118.0,176.0"/>
<polyline fill="none" stroke="#ff1a10" stroke-width="0.75" stroke-linejoin="round" stroke-linecap="round" points="155.0,150.0 157.0,165.0 160.0,178.0"/>
<polyline fill="none" stroke="#ff1a10" stroke-width="0.9" stroke-linejoin="round" stroke-linecap="round" points="82.0,175.0 86.0,188.0 88.0,200.0 92.0,215.0"/>
</g>
<g transform="translate(0,784)">
<g mask="url(#landm)">
<g filter="url(#nz_e)">
<rect x="32" y="10" width="300" height="60" fill="#ffa018"/>
<rect x="332" y="10" width="300" height="60" fill="#ff8e12"/>
<rect x="32" y="70" width="180" height="30" fill="#ffa018"/>
<rect x="212" y="70" width="30" height="30" fill="#ffbc28"/>
<rect x="242" y="70" width="120" height="30" fill="#ffa018"/>
<rect x="362" y="70" width="270" height="30" fill="#ff8e12"/>
<rect x="32" y="100" width="150" height="30" fill="#d8e8f8"/>
<rect x="182" y="100" width="30" height="30" fill="#a8dcd8"/>
<rect x="212" y="100" width="30" height="30" fill="#ffa018"/>
<rect x="242" y="100" width="30" height="30" fill="#ff8e12"/>
<rect x="272" y="100" width="90" height="30" fill="#ffa018"/>
<rect x="362" y="100" width="270" height="30" fill="#ff8e12"/>
<rect x="32" y="130" width="150" height="30" fill="#d8e8f8"/>
<rect x="182" y="130" width="30" height="30" fill="#a8dcd8"/>
<rect x="212" y="130" width="90" height="30" fill="#ff8e12"/>
<rect x="302" y="130" width="60" height="30" fill="#ffa018"/>
<rect x="362" y="130" width="270" height="30" fill="#ff8e12"/>
<rect x="32" y="160" width="120" height="30" fill="#d8e8f8"/>
<rect x="152" y="160" width="60" height="30" fill="#a8dcd8"/>
<rect x="212" y="160" width="180" height="30" fill="#ffa018"/>
<rect x="392" y="160" width="150" height="30" fill="#ff8e12"/>
<rect x="542" y="160" width="90" height="30" fill="#ffa018"/>
<rect x="32" y="190" width="90" height="30" fill="#d8e8f8"/>
<rect x="122" y="190" width="60" height="30" fill="#a8dcd8"/>
<rect x="182" y="190" width="30" height="30" fill="#ecec50"/>
<rect x="212" y="190" width="30" height="30" fill="#ffd830"/>
<rect x="242" y="190" width="30" height="30" fill="#ffbc28"/>
<rect x="272" y="190" width="90" height="30" fill="#ffa018"/>
<rect x="362" y="190" width="120" height="30" fill="#ff8e12"/>
<rect x="482" y="190" width="60" height="30" fill="#ffa018"/>
<rect x="542" y="190" width="90" height="30" fill="#ffbc28"/>
<rect x="32" y="220" width="60" height="30" fill="#90c8c0"/>
<rect x="92" y="220" width="60" height="30" fill="#c0e084"/>
<rect x="152" y="220" width="30" height="30" fill="#ecec50"/>
<rect x="182" y="220" width="60" height="30" fill="#ffd830"/>
<rect x="242" y="220" width="60" height="30" fill="#ffbc28"/>
<rect x="302" y="220" width="60" height="30" fill="#ffa018"/>
<rect x="362" y="220" width="90" height="30" fill="#ff8e12"/>
<rect x="452" y="220" width="60" height="30" fill="#ffa018"/>
<rect x="512" y="220" width="60" height="30" fill="#ffbc28"/>
<rect x="572" y="220" width="60" height="30" fill="#3a6af0"/>
<rect x="32" y="250" width="90" height="30" fill="#c0e084"/>
<rect x="122" y="250" width="60" height="30" fill="#ecec50"/>
<rect x="182" y="250" width="60" height="30" fill="#ffd830"/>
<rect x="242" y="250" width="60" height="30" fill="#ffbc28"/>
<rect x="302" y="250" width="30" height="30" fill="#ffa018"/>
<rect x="332" y="250" width="30" height="30" fill="#ffbc28"/>
<rect x="362" y="250" width="90" height="30" fill="#ffa018"/>
<rect x="452" y="250" width="90" height="30" fill="#ffbc28"/>
<rect x="542" y="250" width="90" height="30" fill="#3a6af0"/>
<rect x="32" y="280" width="60" height="30" fill="#c0e084"/>
<rect x="92" y="280" width="60" height="30" fill="#ecec50"/>
<rect x="152" y="280" width="90" height="30" fill="#ffd830"/>
<rect x="242" y="280" width="90" height="30" fill="#ffbc28"/>
<rect x="332" y="280" width="30" height="30" fill="#ffd830"/>
<rect x="362" y="280" width="180" height="30" fill="#ffbc28"/>
<rect x="542" y="280" width="90" height="30" fill="#3a6af0"/>
<rect x="32" y="310" width="90" height="30" fill="#ecec50"/>
<rect x="122" y="310" width="120" height="30" fill="#ffd830"/>
<rect x="242" y="310" width="90" height="30" fill="#ffbc28"/>
<rect x="332" y="310" width="60" height="30" fill="#ffd830"/>
<rect x="392" y="310" width="150" height="30" fill="#ffbc28"/>
<rect x="542" y="310" width="90" height="30" fill="#3a6af0"/>
<rect x="32" y="340" width="60" height="30" fill="#ecec50"/>
<rect x="92" y="340" width="150" height="30" fill="#ffd830"/>
<rect x="242" y="340" width="60" height="30" fill="#ffbc28"/>
<rect x="302" y="340" width="60" height="30" fill="#c0e084"/>
<rect x="362" y="340" width="30" height="30" fill="#ffd830"/>
<rect x="392" y="340" width="240" height="30" fill="#ffbc28"/>
<rect x="32" y="370" width="60" height="60" fill="#ecec50"/>
<rect x="92" y="370" width="150" height="60" fill="#ffd830"/>
<rect x="242" y="370" width="60" height="60" fill="#ffbc28"/>
<rect x="302" y="370" width="60" height="60" fill="#c0e084"/>
<rect x="362" y="370" width="30" height="60" fill="#ffd830"/>
<rect x="392" y="370" width="240" height="60" fill="#ffbc28"/>
</g>
<g mask="url(#mk_warm_e)">
<g filter="url(#nw_e)">
<rect x="32" y="10" width="300" height="60" fill="#ffa018"/>
<rect x="332" y="10" width="300" height="60" fill="#ff8e12"/>
<rect x="32" y="70" width="180" height="30" fill="#ffa018"/>
<rect x="212" y="70" width="30" height="30" fill="#ffbc28"/>
<rect x="242" y="70" width="120" height="30" fill="#ffa018"/>
<rect x="362" y="70" width="270" height="30" fill="#ff8e12"/>
<rect x="32" y="100" width="150" height="30" fill="#d8e8f8"/>
<rect x="182" y="100" width="30" height="30" fill="#a8dcd8"/>
<rect x="212" y="100" width="30" height="30" fill="#ffa018"/>
<rect x="242" y="100" width="30" height="30" fill="#ff8e12"/>
<rect x="272" y="100" width="90" height="30" fill="#ffa018"/>
<rect x="362" y="100" width="270" height="30" fill="#ff8e12"/>
<rect x="32" y="130" width="150" height="30" fill="#d8e8f8"/>
<rect x="182" y="130" width="30" height="30" fill="#a8dcd8"/>
<rect x="212" y="130" width="90" height="30" fill="#ff8e12"/>
<rect x="302" y="130" width="60" height="30" fill="#ffa018"/>
<rect x="362" y="130" width="270" height="30" fill="#ff8e12"/>
<rect x="32" y="160" width="120" height="30" fill="#d8e8f8"/>
<rect x="152" y="160" width="60" height="30" fill="#a8dcd8"/>
<rect x="212" y="160" width="180" height="30" fill="#ffa018"/>
<rect x="392" y="160" width="150" height="30" fill="#ff8e12"/>
<rect x="542" y="160" width="90" height="30" fill="#ffa018"/>
<rect x="32" y="190" width="90" height="30" fill="#d8e8f8"/>
<rect x="122" y="190" width="60" height="30" fill="#a8dcd8"/>
<rect x="182" y="190" width="30" height="30" fill="#ecec50"/>
<rect x="212" y="190" width="30" height="30" fill="#ffd830"/>
<rect x="242" y="190" width="30" height="30" fill="#ffbc28"/>
<rect x="272" y="190" width="90" height="30" fill="#ffa018"/>
<rect x="362" y="190" width="120" height="30" fill="#ff8e12"/>
<rect x="482" y="190" width="60" height="30" fill="#ffa018"/>
<rect x="542" y="190" width="90" height="30" fill="#ffbc28"/>
<rect x="32" y="220" width="60" height="30" fill="#90c8c0"/>
<rect x="92" y="220" width="60" height="30" fill="#c0e084"/>
<rect x="152" y="220" width="30" height="30" fill="#ecec50"/>
<rect x="182" y="220" width="60" height="30" fill="#ffd830"/>
<rect x="242" y="220" width="60" height="30" fill="#ffbc28"/>
<rect x="302" y="220" width="60" height="30" fill="#ffa018"/>
<rect x="362" y="220" width="90" height="30" fill="#ff8e12"/>
<rect x="452" y="220" width="60" height="30" fill="#ffa018"/>
<rect x="512" y="220" width="60" height="30" fill="#ffbc28"/>
<rect x="572" y="220" width="60" height="30" fill="#3a6af0"/>
<rect x="32" y="250" width="90" height="30" fill="#c0e084"/>
<rect x="122" y="250" width="60" height="30" fill="#ecec50"/>
<rect x="182" y="250" width="60" height="30" fill="#ffd830"/>
<rect x="242" y="250" width="60" height="30" fill="#ffbc28"/>
<rect x="302" y="250" width="30" height="30" fill="#ffa018"/>
<rect x="332" y="250" width="30" height="30" fill="#ffbc28"/>
<rect x="362" y="250" width="90" height="30" fill="#ffa018"/>
<rect x="452" y="250" width="90" height="30" fill="#ffbc28"/>
<rect x="542" y="250" width="90" height="30" fill="#3a6af0"/>
<rect x="32" y="280" width="60" height="30" fill="#c0e084"/>
<rect x="92" y="280" width="60" height="30" fill="#ecec50"/>
<rect x="152" y="280" width="90" height="30" fill="#ffd830"/>
<rect x="242" y="280" width="90" height="30" fill="#ffbc28"/>
<rect x="332" y="280" width="30" height="30" fill="#ffd830"/>
<rect x="362" y="280" width="180" height="30" fill="#ffbc28"/>
<rect x="542" y="280" width="90" height="30" fill="#3a6af0"/>
<rect x="32" y="310" width="90" height="30" fill="#ecec50"/>
<rect x="122" y="310" width="120" height="30" fill="#ffd830"/>
<rect x="242" y="310" width="90" height="30" fill="#ffbc28"/>
<rect x="332" y="310" width="60" height="30" fill="#ffd830"/>
<rect x="392" y="310" width="150" height="30" fill="#ffbc28"/>
<rect x="542" y="310" width="90" height="30" fill="#3a6af0"/>
<rect x="32" y="340" width="60" height="30" fill="#ecec50"/>
<rect x="92" y="340" width="150" height="30" fill="#ffd830"/>
<rect x="242" y="340" width="60" height="30" fill="#ffbc28"/>
<rect x="302" y="340" width="60" height="30" fill="#c0e084"/>
<rect x="362" y="340" width="30" height="30" fill="#ffd830"/>
<rect x="392" y="340" width="240" height="30" fill="#ffbc28"/>
<rect x="32" y="370" width="60" height="60" fill="#ecec50"/>
<rect x="92" y="370" width="150" height="60" fill="#ffd830"/>
<rect x="242" y="370" width="60" height="60" fill="#ffbc28"/>
<rect x="302" y="370" width="60" height="60" fill="#c0e084"/>
<rect x="362" y="370" width="30" height="60" fill="#ffd830"/>
<rect x="392" y="370" width="240" height="60" fill="#ffbc28"/>
</g>
</g>
<rect x="60" y="40" width="560" height="370" filter="url(#ws)"/>
<polyline fill="none" stroke="#f0d040" stroke-width="3" stroke-opacity="0.8" points="571,275 567,288 567,302 572,315"/>
<polyline fill="none" stroke="#f8ec70" stroke-opacity="0.75" stroke-width="2" stroke-linejoin="round" points="201.0,164.0 212.0,174.5 222.0,177.0 233.0,176.6 249.0,172.4 264.0,160.0 285.0,151.5 300.0,139.0 312.0,130.6 333.0,127.5 358.0,128.5 369.0,135.0 380.0,147.0 392.0,158.0 405.0,164.0 420.0,152.0 435.0,138.0 452.0,146.0 472.0,157.0 484.0,149.0 495.0,140.0 515.0,122.0 534.0,106.0 548.0,102.5 566.0,109.0 585.0,112.0 598.0,112.0"/>
<polyline fill="none" stroke="#f8ec70" stroke-opacity="0.75" stroke-width="1.4" stroke-linejoin="round" points="253.6,116.0 259.9,126.4 255.7,134.8 264.0,147.0 264.0,160.0"/>
<polyline fill="none" stroke="#f8ec70" stroke-opacity="0.75" stroke-width="1.2" stroke-linejoin="round" points="276.6,116.0 270.0,130.0 264.0,147.0"/>
<polyline fill="none" stroke="#f8ec70" stroke-opacity="0.75" stroke-width="1.4" stroke-linejoin="round" points="207.6,151.5 218.0,162.0 228.5,172.4"/>
<polyline fill="none" stroke="#f8ec70" stroke-opacity="0.75" stroke-width="1.4" stroke-linejoin="round" points="368.6,90.9 380.0,100.0 389.5,109.7 405.0,125.0 416.0,140.0 416.0,149.0"/>
<polyline fill="none" stroke="#f8ec70" stroke-opacity="0.75" stroke-width="1.4" stroke-linejoin="round" points="395.0,152.0 392.0,175.0 388.0,200.0 380.0,225.0 372.0,255.0"/>
<polyline fill="none" stroke="#f8ec70" stroke-opacity="0.75" stroke-width="1.4" stroke-linejoin="round" points="478.0,172.0 474.0,195.0 470.0,225.0 462.0,255.0"/>
<polyline fill="none" stroke="#f8ec70" stroke-opacity="0.75" stroke-width="1.6" stroke-linejoin="round" points="240.0,262.0 270.0,275.0 300.0,292.0 330.0,300.0 360.0,300.0 390.0,302.0 420.0,306.0"/>
<polyline fill="none" stroke="#f8ec70" stroke-opacity="0.75" stroke-width="1.2" stroke-linejoin="round" points="240.0,215.0 255.0,195.0 262.0,175.0"/>
<ellipse cx="183" cy="180" rx="11" ry="24" fill="#fff" fill-opacity="0.3" filter="url(#bl2)"/>
<g fill="#fff" filter="url(#bl2)"><ellipse cx="415" cy="148" rx="24" ry="9" fill-opacity="0.35" transform="rotate(18 415 148)"/><ellipse cx="462" cy="160" rx="16" ry="8" fill-opacity="0.3"/><ellipse cx="535" cy="82" rx="14" ry="10" fill-opacity="0.3"/></g>
<g fill="#fff" filter="url(#jag)">
<polygon points="260.0,88.0 270.0,86.5 284.0,87.5 295.0,90.0 293.0,95.0 282.0,96.0 268.0,95.5 261.0,93.0"/>
<polygon points="303.8,103.4 316.3,99.3 333.0,105.6 345.0,104.0 354.0,108.7 370.7,112.9 368.6,121.3 354.0,119.2 337.2,116.0 320.5,116.5 308.0,111.8"/>
<polygon points="316.3,139.0 328.9,133.7 349.8,135.8 357.1,144.2 347.7,150.5 335.1,146.3 320.5,145.2"/>
<polygon points="412.0,151.0 420.0,149.0 429.0,153.0 427.0,160.0 418.0,161.0 413.0,157.0"/>
<polygon points="469.0,166.0 480.0,164.0 488.0,168.0 486.0,177.0 478.0,179.0 471.0,174.0"/>
<polygon points="521.0,74.0 530.0,72.5 536.0,77.0 533.0,84.0 524.0,83.0"/>
<polygon points="539.0,85.0 545.0,84.5 545.0,90.0 540.0,90.0"/>
<polygon points="557.0,118.0 568.0,116.5 577.0,120.0 575.0,128.0 565.0,128.6 558.0,125.0"/>
<polygon points="503.0,114.5 514.0,114.0 515.0,119.5 505.0,120.0"/>
<polygon points="527.0,115.0 538.0,114.0 539.0,122.0 529.0,123.0"/>
<polygon points="430.0,82.0 435.0,82.0 434.0,87.0 430.0,86.0"/>
<polygon points="392.0,150.0 405.0,149.0 409.0,155.0 398.0,157.0"/>
</g>
</g>
<polyline fill="none" stroke="#1830e0" stroke-width="1.8" stroke-opacity="0.75" stroke-linecap="round" points="112.0,245.0 124.0,256.0 135.0,268.0 147.0,280.0 158.0,291.0"/>
<polyline fill="none" stroke="#1830e0" stroke-width="1.4" stroke-opacity="0.75" stroke-linecap="round" points="122.0,238.0 131.0,250.0 140.0,262.0 148.0,272.0 155.0,282.0"/>
<polyline fill="none" stroke="#1830e0" stroke-width="1.3" stroke-opacity="0.75" stroke-linecap="round" points="100.0,256.0 109.0,265.0 118.0,275.0 126.0,284.0"/>
<polyline fill="none" stroke="#1830e0" stroke-width="1.3" stroke-opacity="0.75" stroke-linecap="round" points="150.0,236.0 156.0,246.0 161.0,256.0 168.0,268.0"/>
<polyline fill="none" stroke="#1830e0" stroke-width="1.2" stroke-opacity="0.75" stroke-linecap="round" points="84.0,262.0 92.0,270.0 100.0,280.0"/>
<polyline fill="none" stroke="#1830e0" stroke-width="1.8" stroke-linejoin="round" stroke-linecap="round" points="74.2,163.0 80.0,170.0 87.3,178.8 90.0,192.0 96.5,205.0 96.5,231.0 96.5,250.0 97.0,268.0"/>
<polyline fill="none" stroke="#1830e0" stroke-width="1.5" stroke-linejoin="round" stroke-linecap="round" points="91.3,168.3 95.2,184.0 101.8,205.0 103.0,231.0 104.0,245.0 105.0,262.0"/>
<polyline fill="none" stroke="#1830e0" stroke-width="1.125" stroke-linejoin="round" stroke-linecap="round" points="100.5,152.5 103.0,184.0 108.3,192.0 117.5,211.7"/>
<polyline fill="none" stroke="#1830e0" stroke-width="0.825" stroke-linejoin="round" stroke-linecap="round" points="104.4,184.0 110.0,180.0 117.5,176.0"/>
<polyline fill="none" stroke="#1830e0" stroke-width="1.05" stroke-linejoin="round" stroke-linecap="round" points="125.4,189.3 133.3,199.8 133.3,215.6"/>
<polyline fill="none" stroke="#1830e0" stroke-width="0.9" stroke-linejoin="round" stroke-linecap="round" points="134.6,178.8 136.0,189.3"/>
<polyline fill="none" stroke="#1830e0" stroke-width="1.05" stroke-linejoin="round" stroke-linecap="round" points="143.8,164.4 149.0,184.0 157.0,194.6"/>
<polyline fill="none" stroke="#1830e0" stroke-width="1.2" stroke-linejoin="round" stroke-linecap="round" points="164.8,111.8 167.5,119.7 162.2,130.2 168.8,143.3 170.0,159.0 172.7,168.3"/>
<polyline fill="none" stroke="#1830e0" stroke-width="0.9" stroke-linejoin="round" stroke-linecap="round" points="141.0,181.4 143.8,192.0"/>
<polyline fill="none" stroke="#1830e0" stroke-width="0.9" stroke-linejoin="round" stroke-linecap="round" points="193.7,117.0 200.0,112.0 209.5,107.9"/>
<polyline fill="none" stroke="#1830e0" stroke-width="1.2" stroke-linejoin="round" stroke-linecap="round" points="84.7,195.0 85.0,200.0"/>
<polyline fill="none" stroke="#1830e0" stroke-width="0.975" stroke-linejoin="round" stroke-linecap="round" points="159.6,178.8 167.5,192.0"/>
<polyline fill="none" stroke="#1830e0" stroke-width="0.75" stroke-linejoin="round" stroke-linecap="round" points="120.0,160.0 124.0,172.0 127.0,185.0"/>
<polyline fill="none" stroke="#1830e0" stroke-width="0.675" stroke-linejoin="round" stroke-linecap="round" points="112.0,150.0 114.0,165.0 118.0,176.0"/>
<polyline fill="none" stroke="#1830e0" stroke-width="0.75" stroke-linejoin="round" stroke-linecap="round" points="155.0,150.0 157.0,165.0 160.0,178.0"/>
<polyline fill="none" stroke="#1830e0" stroke-width="0.9" stroke-linejoin="round" stroke-linecap="round" points="82.0,175.0 86.0,188.0 88.0,200.0 92.0,215.0"/>
</g>
<rect x="62.3" y="34.8" width="551.0" height="376.5" fill="none" stroke="#000" stroke-width="1.8"/>
<line x1="121.5" y1="27.0" x2="121.5" y2="34.8" stroke="#000" stroke-width="1.8"/>
<line x1="231.1" y1="27.0" x2="231.1" y2="34.8" stroke="#000" stroke-width="1.8"/>
<line x1="340.7" y1="27.0" x2="340.7" y2="34.8" stroke="#000" stroke-width="1.8"/>
<line x1="450.3" y1="27.0" x2="450.3" y2="34.8" stroke="#000" stroke-width="1.8"/>
<line x1="559.9" y1="27.0" x2="559.9" y2="34.8" stroke="#000" stroke-width="1.8"/>
<line x1="55.0" y1="41.2" x2="62.3" y2="41.2" stroke="#000" stroke-width="1.8"/>
<line x1="55.0" y1="150.6" x2="62.3" y2="150.6" stroke="#000" stroke-width="1.8"/>
<line x1="55.0" y1="260.0" x2="62.3" y2="260.0" stroke="#000" stroke-width="1.8"/>
<line x1="55.0" y1="369.4" x2="62.3" y2="369.4" stroke="#000" stroke-width="1.8"/>
<text x="122.5" y="21.9" font-size="16.5" letter-spacing="0.45" text-anchor="middle">100° E</text>
<text x="232.1" y="21.9" font-size="16.5" letter-spacing="0.45" text-anchor="middle">105° E</text>
<text x="341.7" y="21.9" font-size="16.5" letter-spacing="0.45" text-anchor="middle">110° E</text>
<text x="451.3" y="21.9" font-size="16.5" letter-spacing="0.45" text-anchor="middle">115° E</text>
<text x="560.9" y="21.9" font-size="16.5" letter-spacing="0.45" text-anchor="middle">120° E</text>
<text x="53.6" y="47.9" font-size="16.5" letter-spacing="0.5" text-anchor="end">35° N</text>
<text x="53.6" y="157.3" font-size="16.5" letter-spacing="0.5" text-anchor="end">30° N</text>
<text x="53.6" y="266.7" font-size="16.5" letter-spacing="0.5" text-anchor="end">25° N</text>
<text x="53.6" y="376.1" font-size="16.5" letter-spacing="0.5" text-anchor="end">20° N</text>
<text transform="translate(72.6,57.4) scale(1,1.05)" font-size="26.5">(a)</text>
<rect x="632.3" y="34.8" width="551.0" height="376.5" fill="none" stroke="#000" stroke-width="1.8"/>
<line x1="691.5" y1="27.0" x2="691.5" y2="34.8" stroke="#000" stroke-width="1.8"/>
<line x1="801.1" y1="27.0" x2="801.1" y2="34.8" stroke="#000" stroke-width="1.8"/>
<line x1="910.7" y1="27.0" x2="910.7" y2="34.8" stroke="#000" stroke-width="1.8"/>
<line x1="1020.3" y1="27.0" x2="1020.3" y2="34.8" stroke="#000" stroke-width="1.8"/>
<line x1="1129.9" y1="27.0" x2="1129.9" y2="34.8" stroke="#000" stroke-width="1.8"/>
<line x1="625.0" y1="41.2" x2="632.3" y2="41.2" stroke="#000" stroke-width="1.8"/>
<line x1="625.0" y1="150.6" x2="632.3" y2="150.6" stroke="#000" stroke-width="1.8"/>
<line x1="625.0" y1="260.0" x2="632.3" y2="260.0" stroke="#000" stroke-width="1.8"/>
<line x1="625.0" y1="369.4" x2="632.3" y2="369.4" stroke="#000" stroke-width="1.8"/>
<text x="692.5" y="21.9" font-size="16.5" letter-spacing="0.45" text-anchor="middle">100° E</text>
<text x="802.1" y="21.9" font-size="16.5" letter-spacing="0.45" text-anchor="middle">105° E</text>
<text x="911.7" y="21.9" font-size="16.5" letter-spacing="0.45" text-anchor="middle">110° E</text>
<text x="1021.3" y="21.9" font-size="16.5" letter-spacing="0.45" text-anchor="middle">115° E</text>
<text x="1130.9" y="21.9" font-size="16.5" letter-spacing="0.45" text-anchor="middle">120° E</text>
<text transform="translate(642.6,57.4) scale(1,1.05)" font-size="26.5">(b)</text>
<rect x="62.3" y="427.8" width="551.0" height="376.5" fill="none" stroke="#000" stroke-width="1.8"/>
<line x1="121.5" y1="420.0" x2="121.5" y2="427.8" stroke="#000" stroke-width="1.8"/>
<line x1="231.1" y1="420.0" x2="231.1" y2="427.8" stroke="#000" stroke-width="1.8"/>
<line x1="340.7" y1="420.0" x2="340.7" y2="427.8" stroke="#000" stroke-width="1.8"/>
<line x1="450.3" y1="420.0" x2="450.3" y2="427.8" stroke="#000" stroke-width="1.8"/>
<line x1="559.9" y1="420.0" x2="559.9" y2="427.8" stroke="#000" stroke-width="1.8"/>
<line x1="55.0" y1="434.2" x2="62.3" y2="434.2" stroke="#000" stroke-width="1.8"/>
<line x1="55.0" y1="543.6" x2="62.3" y2="543.6" stroke="#000" stroke-width="1.8"/>
<line x1="55.0" y1="653.0" x2="62.3" y2="653.0" stroke="#000" stroke-width="1.8"/>
<line x1="55.0" y1="762.4" x2="62.3" y2="762.4" stroke="#000" stroke-width="1.8"/>
<text x="53.6" y="440.9" font-size="16.5" letter-spacing="0.5" text-anchor="end">35° N</text>
<text x="53.6" y="550.3" font-size="16.5" letter-spacing="0.5" text-anchor="end">30° N</text>
<text x="53.6" y="659.7" font-size="16.5" letter-spacing="0.5" text-anchor="end">25° N</text>
<text x="53.6" y="769.1" font-size="16.5" letter-spacing="0.5" text-anchor="end">20° N</text>
<text transform="translate(72.6,450.4) scale(1,1.05)" font-size="26.5">(c)</text>
<rect x="632.3" y="427.8" width="549.6" height="376.5" fill="none" stroke="#000" stroke-width="1.8"/>
<line x1="691.5" y1="420.0" x2="691.5" y2="427.8" stroke="#000" stroke-width="1.8"/>
<line x1="801.1" y1="420.0" x2="801.1" y2="427.8" stroke="#000" stroke-width="1.8"/>
<line x1="910.7" y1="420.0" x2="910.7" y2="427.8" stroke="#000" stroke-width="1.8"/>
<line x1="1020.3" y1="420.0" x2="1020.3" y2="427.8" stroke="#000" stroke-width="1.8"/>
<line x1="1129.9" y1="420.0" x2="1129.9" y2="427.8" stroke="#000" stroke-width="1.8"/>
<line x1="625.0" y1="434.2" x2="632.3" y2="434.2" stroke="#000" stroke-width="1.8"/>
<line x1="625.0" y1="543.6" x2="632.3" y2="543.6" stroke="#000" stroke-width="1.8"/>
<line x1="625.0" y1="653.0" x2="632.3" y2="653.0" stroke="#000" stroke-width="1.8"/>
<line x1="625.0" y1="762.4" x2="632.3" y2="762.4" stroke="#000" stroke-width="1.8"/>
<text transform="translate(642.6,450.4) scale(1,1.05)" font-size="26.5">(d)</text>
<rect x="62.3" y="818.8" width="551.0" height="376.5" fill="none" stroke="#000" stroke-width="1.8"/>
<line x1="121.5" y1="811.0" x2="121.5" y2="818.8" stroke="#000" stroke-width="1.8"/>
<line x1="231.1" y1="811.0" x2="231.1" y2="818.8" stroke="#000" stroke-width="1.8"/>
<line x1="340.7" y1="811.0" x2="340.7" y2="818.8" stroke="#000" stroke-width="1.8"/>
<line x1="450.3" y1="811.0" x2="450.3" y2="818.8" stroke="#000" stroke-width="1.8"/>
<line x1="559.9" y1="811.0" x2="559.9" y2="818.8" stroke="#000" stroke-width="1.8"/>
<line x1="55.0" y1="825.2" x2="62.3" y2="825.2" stroke="#000" stroke-width="1.8"/>
<line x1="55.0" y1="934.6" x2="62.3" y2="934.6" stroke="#000" stroke-width="1.8"/>
<line x1="55.0" y1="1044.0" x2="62.3" y2="1044.0" stroke="#000" stroke-width="1.8"/>
<line x1="55.0" y1="1153.4" x2="62.3" y2="1153.4" stroke="#000" stroke-width="1.8"/>
<text x="53.6" y="831.9" font-size="16.5" letter-spacing="0.5" text-anchor="end">35° N</text>
<text x="53.6" y="941.3" font-size="16.5" letter-spacing="0.5" text-anchor="end">30° N</text>
<text x="53.6" y="1050.7" font-size="16.5" letter-spacing="0.5" text-anchor="end">25° N</text>
<text x="53.6" y="1160.1" font-size="16.5" letter-spacing="0.5" text-anchor="end">20° N</text>
<text transform="translate(72.6,841.4) scale(1,1.05)" font-size="26.5">(e)</text>
<text x="90" y="90.7" font-size="17.5" text-anchor="middle" class="sans">N</text>
<path d="M89.8,95.3 L77.5,136.1 L89.5,120.6 Z" fill="#000"/>
<path d="M89.8,95.3 L102.2,136.1 L89.5,120.6 Z" fill="none" stroke="#000" stroke-width="1.3" stroke-linejoin="miter"/>
<line x1="71.3" y1="411.3" x2="220.3" y2="411.3" stroke="#9a9a9a" stroke-width="1.8"/>
<polyline fill="none" stroke="#555" stroke-width="1.5" points="78.4,384.5 78.4,374.6 177,374.6 177,384.5"/>
<line x1="90.9" y1="374.6" x2="90.9" y2="382.0" stroke="#333" stroke-width="1.5"/>
<line x1="103.3" y1="374.6" x2="103.3" y2="382.0" stroke="#333" stroke-width="1.5"/>
<line x1="115.7" y1="374.6" x2="115.7" y2="382.0" stroke="#333" stroke-width="1.5"/>
<line x1="127.7" y1="374.6" x2="127.7" y2="384.5" stroke="#333" stroke-width="1.5"/>
<line x1="140.0" y1="374.6" x2="140.0" y2="382.0" stroke="#333" stroke-width="1.5"/>
<line x1="152.4" y1="374.6" x2="152.4" y2="382.0" stroke="#333" stroke-width="1.5"/>
<line x1="164.6" y1="374.6" x2="164.6" y2="382.0" stroke="#333" stroke-width="1.5"/>
<text x="78.5" y="401.2" font-size="13.2" text-anchor="middle" class="sans" style="fill:#333">0</text>
<text x="92.3" y="401.2" font-size="13.4" letter-spacing="0.5" class="sans" style="fill:#333">125250</text>
<text x="165.3" y="401.2" font-size="13.4" letter-spacing="0.5" class="sans" style="fill:#333">500 km</text>
<rect x="71.7" y="176.3" width="144" height="87.4" fill="none" stroke="#ff1010" stroke-width="2"/>
<text x="103.8" y="230" font-size="19.6" letter-spacing="0.1">Hengduan Mountains</text>
<rect x="572.3" y="266.7" width="20.5" height="60.3" fill="none" stroke="#ff1010" stroke-width="1.8"/>
<text x="527.5" y="295" font-size="19.6" text-anchor="middle">Taiwan</text>
<text x="524" y="318.9" font-size="19.6" text-anchor="middle">Mountains</text>
<rect x="388.5" y="364.0" width="206.5" height="17.0" fill="url(#cb)"/>
<text x="388.7" y="402.4" font-size="20" letter-spacing="0.3" text-anchor="middle">0</text>
<text x="440.3" y="402.4" font-size="20" letter-spacing="0.3" text-anchor="middle">200</text>
<text x="491.9" y="402.4" font-size="20" letter-spacing="0.3" text-anchor="middle">400</text>
<text x="543.6" y="402.4" font-size="20" letter-spacing="0.3" text-anchor="middle">600</text>
<text x="595.2" y="402.4" font-size="20" letter-spacing="0.3" text-anchor="middle">800</text>
<text x="489.8" y="347.8" font-size="19.6" letter-spacing="0.2" text-anchor="middle">Valid Observations</text>
<rect x="958.5" y="364.0" width="206.5" height="17.0" fill="url(#cb)"/>
<text x="958.7" y="402.4" font-size="20" letter-spacing="0.3" text-anchor="middle">-1</text>
<text x="1000.0" y="402.4" font-size="20" letter-spacing="0.3" text-anchor="middle">0</text>
<text x="1041.3" y="402.4" font-size="20" letter-spacing="0.3" text-anchor="middle">1</text>
<text x="1082.6" y="402.4" font-size="20" letter-spacing="0.3" text-anchor="middle">2</text>
<text x="1123.9" y="402.4" font-size="20" letter-spacing="0.3" text-anchor="middle">3</text>
<text x="1165.2" y="402.4" font-size="20" letter-spacing="0.3" text-anchor="middle">4</text>
<text x="1061.6" y="347.8" font-size="19.6" letter-spacing="0.55" text-anchor="middle">Bias (K)</text>
<rect x="388.5" y="757.0" width="206.5" height="17.0" fill="url(#cb)"/>
<text x="388.7" y="795.4" font-size="20" letter-spacing="0.3" text-anchor="middle">1</text>
<text x="440.3" y="795.4" font-size="20" letter-spacing="0.3" text-anchor="middle">2</text>
<text x="491.9" y="795.4" font-size="20" letter-spacing="0.3" text-anchor="middle">3</text>
<text x="543.6" y="795.4" font-size="20" letter-spacing="0.3" text-anchor="middle">4</text>
<text x="595.2" y="795.4" font-size="20" letter-spacing="0.3" text-anchor="middle">5</text>
<text x="495.7" y="740.8" font-size="19.6" letter-spacing="0.55" text-anchor="middle">MAE (K)</text>
<rect x="958.5" y="757.0" width="206.5" height="17.0" fill="url(#cb)"/>
<text x="958.7" y="795.4" font-size="20" letter-spacing="0.3" text-anchor="middle">1</text>
<text x="1000.0" y="795.4" font-size="20" letter-spacing="0.3" text-anchor="middle">2</text>
<text x="1041.3" y="795.4" font-size="20" letter-spacing="0.3" text-anchor="middle">3</text>
<text x="1082.6" y="795.4" font-size="20" letter-spacing="0.3" text-anchor="middle">4</text>
<text x="1123.9" y="795.4" font-size="20" letter-spacing="0.3" text-anchor="middle">5</text>
<text x="1165.2" y="795.4" font-size="20" letter-spacing="0.3" text-anchor="middle">6</text>
<text x="1069.3" y="740.8" font-size="19.6" letter-spacing="0.55" text-anchor="middle">RMSE (K)</text>
<rect x="388.5" y="1148.0" width="206.5" height="17.0" fill="url(#cb)"/>
<text x="388.7" y="1186.4" font-size="20" letter-spacing="0.3" text-anchor="middle">0.7</text>
<text x="457.5" y="1186.4" font-size="20" letter-spacing="0.3" text-anchor="middle">0.8</text>
<text x="526.4" y="1186.4" font-size="20" letter-spacing="0.3" text-anchor="middle">0.9</text>
<text x="595.2" y="1186.4" font-size="20" letter-spacing="0.3" text-anchor="middle">1</text>
<text x="493.0" y="1131.8" font-size="19.6" text-anchor="middle">R<tspan font-size="11.5" dy="-8.5">2</tspan></text>
<g>
<path fill="none" stroke="#ff3c3c" stroke-width="1.5" stroke-linejoin="round" d="M689.20,1148.20 C689.33,1146.00 689.70,1139.90 690.00,1135.00 C690.30,1130.10 690.58,1125.47 691.00,1118.80 C691.42,1112.13 692.03,1102.67 692.50,1095.00 C692.97,1087.33 693.35,1079.80 693.80,1072.80 C694.25,1065.80 694.73,1059.13 695.20,1053.00 C695.67,1046.87 696.08,1041.17 696.60,1036.00 C697.12,1030.83 697.70,1026.00 698.30,1022.00 C698.90,1018.00 699.27,1015.87 700.20,1012.00 C701.13,1008.13 702.67,1002.47 703.90,998.80 C705.13,995.13 706.68,991.98 707.60,990.00 C708.52,988.02 708.50,988.57 709.40,986.90 C710.30,985.23 711.77,982.15 713.00,980.00 C714.23,977.85 715.25,975.92 716.80,974.00 C718.35,972.08 719.85,970.95 722.30,968.50 C724.75,966.05 727.82,962.37 731.50,959.30 C735.18,956.23 739.18,953.17 744.40,950.10 C749.62,947.03 756.67,943.67 762.80,940.90 C768.93,938.13 773.53,935.95 781.20,933.50 C788.87,931.05 798.07,928.80 808.80,926.20 C819.53,923.60 834.87,920.05 845.60,917.90 C856.33,915.75 865.80,914.40 873.20,913.30 C880.60,912.20 882.18,912.47 890.00,911.30 C897.82,910.13 910.07,907.90 920.10,906.30 C930.13,904.70 940.17,903.22 950.20,901.70 C960.23,900.18 969.60,898.68 980.30,897.20 C991.00,895.72 1006.12,893.92 1014.40,892.80 C1022.68,891.68 1024.98,891.27 1030.00,890.50 C1035.02,889.73 1039.40,889.25 1044.50,888.20 C1049.60,887.15 1054.58,885.27 1060.60,884.20 C1066.62,883.13 1075.58,882.80 1080.60,881.80 C1085.62,880.80 1087.68,879.03 1090.70,878.20 C1093.72,877.37 1097.15,877.33 1098.70,876.80 C1100.25,876.27 1099.17,875.53 1100.00,875.00 C1100.83,874.47 1103.87,874.10 1103.70,873.60 C1103.53,873.10 1100.50,872.47 1099.00,872.00 C1097.50,871.53 1097.77,871.45 1094.70,870.80 C1091.63,870.15 1085.38,868.73 1080.60,868.10 C1075.82,867.47 1071.02,867.33 1066.00,867.00 C1060.98,866.67 1058.17,866.52 1050.50,866.10 C1042.83,865.68 1030.03,865.00 1020.00,864.50 C1009.97,864.00 1000.30,863.52 990.30,863.10 C980.30,862.68 970.03,862.33 960.00,862.00 C949.97,861.67 940.10,861.43 930.10,861.10 C920.10,860.77 911.02,860.35 900.00,860.00 C888.98,859.65 876.13,859.38 864.00,859.00 C851.87,858.62 839.47,858.10 827.20,857.70 C814.93,857.30 802.67,857.05 790.40,856.60 C778.13,856.15 763.67,855.47 753.60,855.00 C743.53,854.53 736.13,854.20 730.00,853.80 C723.87,853.40 720.97,853.02 716.80,852.60 C712.63,852.18 708.07,851.77 705.00,851.30 C701.93,850.83 700.57,850.43 698.40,849.80 C696.23,849.17 693.68,848.27 692.00,847.50 C690.32,846.73 688.92,845.58 688.30,845.20"/>
<path fill="none" stroke="#22f022" stroke-width="1.6" stroke-linejoin="round" d="M688.30,831.00 C688.42,833.33 688.70,839.87 689.00,845.00 C689.30,850.13 689.68,855.97 690.10,861.80 C690.52,867.63 691.03,873.87 691.50,880.00 C691.97,886.13 692.40,892.77 692.90,898.60 C693.40,904.43 693.88,909.78 694.50,915.00 C695.12,920.22 695.85,925.57 696.60,929.90 C697.35,934.23 698.08,937.63 699.00,941.00 C699.92,944.37 700.77,947.27 702.10,950.10 C703.43,952.93 705.17,955.55 707.00,958.00 C708.83,960.45 710.93,962.97 713.10,964.80 C715.27,966.63 717.85,967.77 720.00,969.00 C722.15,970.23 722.67,970.70 726.00,972.20 C729.33,973.70 735.40,976.02 740.00,978.00 C744.60,979.98 748.88,982.10 753.60,984.10 C758.32,986.10 763.73,988.47 768.30,990.00 C772.87,991.53 777.32,992.23 781.00,993.30 C784.68,994.37 787.07,995.32 790.40,996.40 C793.73,997.48 797.93,998.72 801.00,999.80 C804.07,1000.88 806.73,1001.95 808.80,1002.90 C810.87,1003.85 812.33,1004.73 813.40,1005.50 C814.47,1006.27 815.20,1006.92 815.20,1007.50 C815.20,1008.08 814.93,1008.28 813.40,1009.00 C811.87,1009.72 808.30,1010.98 806.00,1011.80 C803.70,1012.62 802.93,1013.10 799.60,1013.90 C796.27,1014.70 790.60,1015.68 786.00,1016.60 C781.40,1017.52 777.33,1018.50 772.00,1019.40 C766.67,1020.30 760.13,1021.07 754.00,1022.00 C747.87,1022.93 741.20,1024.00 735.20,1025.00 C729.20,1026.00 723.52,1026.93 718.00,1028.00 C712.48,1029.07 705.93,1030.48 702.10,1031.40 C698.27,1032.32 696.85,1032.73 695.00,1033.50 C693.15,1034.27 692.03,1034.92 691.00,1036.00 C689.97,1037.08 689.33,1038.47 688.80,1040.00 C688.27,1041.53 687.97,1044.33 687.80,1045.20"/>
<path fill="none" stroke="#1010ff" stroke-width="1.6" stroke-linejoin="round" d="M688.00,850.00 C688.05,855.03 688.13,871.87 688.30,880.20 C688.47,888.53 688.70,893.87 689.00,900.00 C689.30,906.13 689.68,911.67 690.10,917.00 C690.52,922.33 691.03,927.40 691.50,932.00 C691.97,936.60 692.40,940.43 692.90,944.60 C693.40,948.77 693.88,953.02 694.50,957.00 C695.12,960.98 695.85,965.00 696.60,968.50 C697.35,972.00 698.08,974.93 699.00,978.00 C699.92,981.07 700.93,984.40 702.10,986.90 C703.27,989.40 704.68,991.40 706.00,993.00 C707.32,994.60 708.20,995.17 710.00,996.50 C711.80,997.83 714.30,999.50 716.80,1001.00 C719.30,1002.50 721.93,1003.97 725.00,1005.50 C728.07,1007.03 731.37,1008.70 735.20,1010.20 C739.03,1011.70 743.40,1013.12 748.00,1014.50 C752.60,1015.88 755.73,1017.07 762.80,1018.50 C769.87,1019.93 782.53,1021.93 790.40,1023.10 C798.27,1024.27 803.87,1024.58 810.00,1025.50 C816.13,1026.42 821.37,1027.52 827.20,1028.60 C833.03,1029.68 840.40,1031.07 845.00,1032.00 C849.60,1032.93 852.30,1033.53 854.80,1034.20 C857.30,1034.87 858.78,1035.40 860.00,1036.00 C861.22,1036.60 862.20,1037.18 862.10,1037.80 C862.00,1038.42 861.08,1039.17 859.40,1039.70 C857.72,1040.23 854.30,1040.55 852.00,1041.00 C849.70,1041.45 849.27,1041.90 845.60,1042.40 C841.93,1042.90 836.13,1043.38 830.00,1044.00 C823.87,1044.62 816.30,1045.43 808.80,1046.10 C801.30,1046.77 793.28,1047.38 785.00,1048.00 C776.72,1048.62 768.27,1049.13 759.10,1049.80 C749.93,1050.47 738.58,1051.23 730.00,1052.00 C721.42,1052.77 713.10,1053.73 707.60,1054.40 C702.10,1055.07 699.60,1055.32 697.00,1056.00 C694.40,1056.68 693.25,1057.58 692.00,1058.50 C690.75,1059.42 690.17,1060.35 689.50,1061.50 C688.83,1062.65 688.25,1064.75 688.00,1065.40"/>
<path fill="none" stroke="#000" stroke-width="1.6" stroke-linejoin="round" d="M688.00,900.00 C688.05,905.90 688.05,926.23 688.30,935.40 C688.55,944.57 689.05,948.87 689.50,955.00 C689.95,961.13 690.42,967.20 691.00,972.20 C691.58,977.20 692.23,980.57 693.00,985.00 C693.77,989.43 694.60,994.97 695.60,998.80 C696.60,1002.63 697.62,1004.87 699.00,1008.00 C700.38,1011.13 702.23,1014.93 703.90,1017.60 C705.57,1020.27 706.85,1021.85 709.00,1024.00 C711.15,1026.15 713.97,1028.58 716.80,1030.50 C719.63,1032.42 722.93,1033.97 726.00,1035.50 C729.07,1037.03 731.87,1038.20 735.20,1039.70 C738.53,1041.20 742.32,1042.97 746.00,1044.50 C749.68,1046.03 754.13,1047.73 757.30,1048.90 C760.47,1050.07 762.55,1050.58 765.00,1051.50 C767.45,1052.42 769.67,1053.32 772.00,1054.40 C774.33,1055.48 776.85,1056.62 779.00,1058.00 C781.15,1059.38 783.62,1061.47 784.90,1062.70 C786.18,1063.93 786.55,1064.63 786.70,1065.40 C786.85,1066.17 787.03,1066.07 785.80,1067.30 C784.57,1068.53 781.93,1071.18 779.30,1072.80 C776.67,1074.42 772.75,1075.78 770.00,1077.00 C767.25,1078.22 765.63,1078.93 762.80,1080.10 C759.97,1081.27 756.07,1082.77 753.00,1084.00 C749.93,1085.23 747.40,1086.25 744.40,1087.50 C741.40,1088.75 738.07,1089.97 735.00,1091.50 C731.93,1093.03 729.17,1094.87 726.00,1096.70 C722.83,1098.53 719.07,1100.35 716.00,1102.50 C712.93,1104.65 709.93,1107.43 707.60,1109.60 C705.27,1111.77 703.53,1113.35 702.00,1115.50 C700.47,1117.65 699.48,1120.25 698.40,1122.50 C697.32,1124.75 696.42,1126.55 695.50,1129.00 C694.58,1131.45 693.62,1134.87 692.90,1137.20 C692.18,1139.53 691.67,1141.17 691.20,1143.00 C690.73,1144.83 690.28,1147.33 690.10,1148.20"/>
<line x1="680.8" y1="831.0" x2="1127.6" y2="831.0" stroke="#555" stroke-width="2"/>
<line x1="687.5" y1="831.0" x2="687.5" y2="1149.2" stroke="#000" stroke-width="1.8"/>
<line x1="680.8" y1="1148.3" x2="1127.6" y2="1148.3" stroke="#000" stroke-width="1.8"/>
<line x1="1127.6" y1="831.0" x2="1127.6" y2="1148.3" stroke="#ff3030" stroke-width="1.8"/>
<text x="677.6" y="1153.7" font-size="16" letter-spacing="1" text-anchor="end" fill="#222">-1</text>
<line x1="680.8" y1="1108.7" x2="687.5" y2="1108.7" stroke="#333" stroke-width="1.6"/>
<text x="677.6" y="1114.0" font-size="16" letter-spacing="1" text-anchor="end" fill="#222">0</text>
<line x1="680.8" y1="1069.0" x2="687.5" y2="1069.0" stroke="#333" stroke-width="1.6"/>
<text x="677.6" y="1074.3" font-size="16" letter-spacing="1" text-anchor="end" fill="#222">1</text>
<line x1="680.8" y1="1029.4" x2="687.5" y2="1029.4" stroke="#333" stroke-width="1.6"/>
<text x="677.6" y="1034.7" font-size="16" letter-spacing="1" text-anchor="end" fill="#222">2</text>
<line x1="680.8" y1="989.7" x2="687.5" y2="989.7" stroke="#333" stroke-width="1.6"/>
<text x="677.6" y="995.0" font-size="16" letter-spacing="1" text-anchor="end" fill="#222">3</text>
<line x1="680.8" y1="950.1" x2="687.5" y2="950.1" stroke="#333" stroke-width="1.6"/>
<text x="677.6" y="955.4" font-size="16" letter-spacing="1" text-anchor="end" fill="#222">4</text>
<line x1="680.8" y1="910.4" x2="687.5" y2="910.4" stroke="#333" stroke-width="1.6"/>
<text x="677.6" y="915.7" font-size="16" letter-spacing="1" text-anchor="end" fill="#222">5</text>
<line x1="680.8" y1="870.7" x2="687.5" y2="870.7" stroke="#333" stroke-width="1.6"/>
<text x="677.6" y="876.0" font-size="16" letter-spacing="1" text-anchor="end" fill="#222">6</text>
<text x="677.6" y="836.4" font-size="16" letter-spacing="1" text-anchor="end" fill="#222">7</text>
<line x1="687.5" y1="1148.3" x2="687.5" y2="1154.3" stroke="#000" stroke-width="1.6"/>
<text x="688.0" y="1170.7" font-size="16" letter-spacing="1" text-anchor="middle" fill="#222">0</text>
<line x1="724.2" y1="1148.3" x2="724.2" y2="1154.3" stroke="#000" stroke-width="1.6"/>
<text x="724.8" y="1170.7" font-size="16" letter-spacing="1" text-anchor="middle" fill="#222">5</text>
<line x1="761.0" y1="1148.3" x2="761.0" y2="1154.3" stroke="#000" stroke-width="1.6"/>
<text x="761.5" y="1170.7" font-size="16" letter-spacing="1" text-anchor="middle" fill="#222">10</text>
<line x1="797.8" y1="1148.3" x2="797.8" y2="1154.3" stroke="#000" stroke-width="1.6"/>
<text x="798.2" y="1170.7" font-size="16" letter-spacing="1" text-anchor="middle" fill="#222">15</text>
<line x1="834.5" y1="1148.3" x2="834.5" y2="1154.3" stroke="#000" stroke-width="1.6"/>
<text x="835.0" y="1170.7" font-size="16" letter-spacing="1" text-anchor="middle" fill="#222">20</text>
<line x1="871.2" y1="1148.3" x2="871.2" y2="1154.3" stroke="#000" stroke-width="1.6"/>
<text x="871.8" y="1170.7" font-size="16" letter-spacing="1" text-anchor="middle" fill="#222">25</text>
<line x1="908.0" y1="1148.3" x2="908.0" y2="1154.3" stroke="#000" stroke-width="1.6"/>
<text x="908.5" y="1170.7" font-size="16" letter-spacing="1" text-anchor="middle" fill="#222">30</text>
<line x1="944.8" y1="1148.3" x2="944.8" y2="1154.3" stroke="#000" stroke-width="1.6"/>
<text x="945.2" y="1170.7" font-size="16" letter-spacing="1" text-anchor="middle" fill="#222">35</text>
<line x1="981.5" y1="1148.3" x2="981.5" y2="1154.3" stroke="#000" stroke-width="1.6"/>
<text x="982.0" y="1170.7" font-size="16" letter-spacing="1" text-anchor="middle" fill="#222">40</text>
<line x1="1018.2" y1="1148.3" x2="1018.2" y2="1154.3" stroke="#000" stroke-width="1.6"/>
<text x="1018.8" y="1170.7" font-size="16" letter-spacing="1" text-anchor="middle" fill="#222">45</text>
<line x1="1055.0" y1="1148.3" x2="1055.0" y2="1154.3" stroke="#000" stroke-width="1.6"/>
<text x="1055.5" y="1170.7" font-size="16" letter-spacing="1" text-anchor="middle" fill="#222">50</text>
<line x1="1091.8" y1="1148.3" x2="1091.8" y2="1154.3" stroke="#000" stroke-width="1.6"/>
<text x="1092.2" y="1170.7" font-size="16" letter-spacing="1" text-anchor="middle" fill="#222">55</text>
<line x1="1128.5" y1="1148.3" x2="1128.5" y2="1154.3" stroke="#000" stroke-width="1.6"/>
<text x="1129.0" y="1170.7" font-size="16" letter-spacing="1" text-anchor="middle" fill="#222">60</text>
<line x1="1127.6" y1="1148.3" x2="1134" y2="1148.3" stroke="#ff3030" stroke-width="1.6"/>
<text x="1139.0" y="1153.6" font-size="16" letter-spacing="0.4" fill="#ff2020" style="fill:#ff2020">0.60</text>
<line x1="1127.6" y1="1108.6" x2="1134" y2="1108.6" stroke="#ff3030" stroke-width="1.6"/>
<text x="1139.0" y="1113.9" font-size="16" letter-spacing="0.4" fill="#ff2020" style="fill:#ff2020">0.65</text>
<line x1="1127.6" y1="1069.0" x2="1134" y2="1069.0" stroke="#ff3030" stroke-width="1.6"/>
<text x="1139.0" y="1074.3" font-size="16" letter-spacing="0.4" fill="#ff2020" style="fill:#ff2020">0.70</text>
<line x1="1127.6" y1="1029.3" x2="1134" y2="1029.3" stroke="#ff3030" stroke-width="1.6"/>
<text x="1139.0" y="1034.6" font-size="16" letter-spacing="0.4" fill="#ff2020" style="fill:#ff2020">0.75</text>
<line x1="1127.6" y1="989.7" x2="1134" y2="989.7" stroke="#ff3030" stroke-width="1.6"/>
<text x="1139.0" y="995.0" font-size="16" letter-spacing="0.4" fill="#ff2020" style="fill:#ff2020">0.80</text>
<line x1="1127.6" y1="950.0" x2="1134" y2="950.0" stroke="#ff3030" stroke-width="1.6"/>
<text x="1139.0" y="955.3" font-size="16" letter-spacing="0.4" fill="#ff2020" style="fill:#ff2020">0.85</text>
<line x1="1127.6" y1="910.3" x2="1134" y2="910.3" stroke="#ff3030" stroke-width="1.6"/>
<text x="1139.0" y="915.6" font-size="16" letter-spacing="0.4" fill="#ff2020" style="fill:#ff2020">0.90</text>
<line x1="1127.6" y1="870.7" x2="1134" y2="870.7" stroke="#ff3030" stroke-width="1.6"/>
<text x="1139.0" y="876.0" font-size="16" letter-spacing="0.4" fill="#ff2020" style="fill:#ff2020">0.95</text>
<line x1="1127.6" y1="831.0" x2="1134" y2="831.0" stroke="#ff3030" stroke-width="1.6"/>
<text x="1139.0" y="836.3" font-size="16" letter-spacing="0.4" fill="#ff2020" style="fill:#ff2020">1.00</text>
<line x1="998" y1="1053.0" x2="1039.8" y2="1053.0" stroke="#000" stroke-width="1.4"/>
<text x="1045" y="1058.9" font-size="16" letter-spacing="1.6">Bias</text>
<line x1="998" y1="1073.4" x2="1039.8" y2="1073.4" stroke="#1010ff" stroke-width="1.4"/>
<text x="1045" y="1078.9" font-size="16" letter-spacing="1.6">MAE</text>
<line x1="998" y1="1094.0" x2="1039.8" y2="1094.0" stroke="#30f030" stroke-width="1.4"/>
<text x="1045" y="1099.4" font-size="16" letter-spacing="1.6">RMSE</text>
<line x1="998" y1="1116.4" x2="1039.8" y2="1116.4" stroke="#ff3c3c" stroke-width="1.4"/>
<text x="1045" y="1121.4" font-size="16" letter-spacing="1.2">R<tspan font-size="10" dy="-8">2</tspan></text>
<text transform="translate(648.4,989.2) rotate(-90)" font-size="16.8" text-anchor="middle">Bias/MAE/RMSE (K)</text>
<text x="908" y="1199.7" font-size="16" text-anchor="middle" letter-spacing="1.1">Pixel Numbers (*10<tspan font-size="10" dy="-7">3</tspan><tspan dy="7">)</tspan></text>
<text transform="translate(1190.9,988) rotate(-90)" font-size="17" text-anchor="middle" style="fill:#ff2020">R<tspan font-size="10" dy="-8">2</tspan></text>
<text transform="translate(628.5,841.3) scale(1,1.05)" font-size="26.5">(f)</text>
</g>
</svg></body></html>
